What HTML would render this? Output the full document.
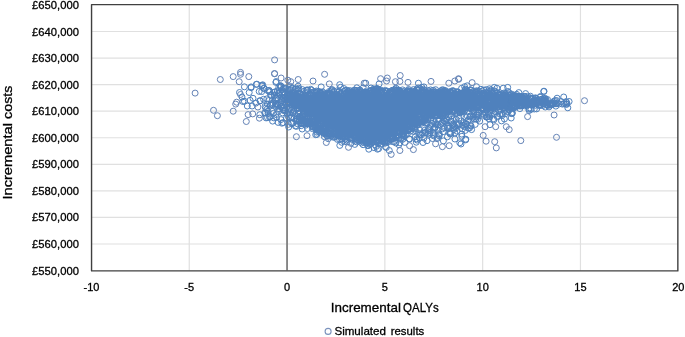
<!DOCTYPE html>
<html><head><meta charset="utf-8"><style>
html,body{margin:0;padding:0;background:#fff}
body{width:685px;height:337px;overflow:hidden}
svg{display:block;filter:blur(.3px)}
text{font-family:"Liberation Sans",sans-serif;fill:#000;stroke:#000;stroke-width:.3px}
.g line{stroke:#e0e0e0;stroke-width:1.2}
.p circle{fill:none;stroke:#4F81BD;stroke-width:1}
.i circle{stroke:#6483b6}
</style></head><body>
<svg width="685" height="337" viewBox="0 0 685 337">
<rect width="685" height="337" fill="#fff"/>
<g class="g"><line x1="91.6" x2="678.2" y1="243.98" y2="243.98"/><line x1="91.6" x2="678.2" y1="217.42" y2="217.42"/><line x1="91.6" x2="678.2" y1="190.86" y2="190.86"/><line x1="91.6" x2="678.2" y1="164.30" y2="164.30"/><line x1="91.6" x2="678.2" y1="137.74" y2="137.74"/><line x1="91.6" x2="678.2" y1="111.18" y2="111.18"/><line x1="91.6" x2="678.2" y1="84.62" y2="84.62"/><line x1="91.6" x2="678.2" y1="58.06" y2="58.06"/><line x1="91.6" x2="678.2" y1="31.50" y2="31.50"/><line y1="4.9" y2="270.5" x1="189.25" x2="189.25"/><line y1="4.9" y2="270.5" x1="384.85" x2="384.85"/><line y1="4.9" y2="270.5" x1="482.65" x2="482.65"/><line y1="4.9" y2="270.5" x1="580.45" x2="580.45"/></g>
<line x1="287.05" x2="287.05" y1="4.9" y2="270.5" stroke="#7f7f7f" stroke-width="1.8"/>
<polygon points="290.0,92.0 300.0,93.5 315.0,95.5 330.0,95.5 345.0,95.5 360.0,95.0 380.0,94.5 420.0,94.5 455.0,94.0 470.0,95.0 485.0,95.5 500.0,96.5 508.0,96.0 499.0,97.0 489.0,100.2 479.0,101.0 467.0,101.7 457.0,102.9 447.0,104.2 438.0,106.0 428.0,109.2 418.0,115.3 409.0,123.0 400.0,128.2 390.0,131.6 377.0,137.0 367.0,137.5 357.0,136.0 348.0,134.0 338.0,131.0 328.0,126.0 319.0,121.0 309.0,115.5 299.0,110.0 288.0,105.0" fill="#4F81BD"/>
<g class="p"><circle cx="256.3" cy="84.4" r="3"/><circle cx="262.1" cy="85.3" r="3"/><circle cx="251.1" cy="86.9" r="3"/><circle cx="276.2" cy="81.5" r="3"/><circle cx="267.5" cy="117.6" r="3"/><circle cx="239.5" cy="92.5" r="3"/><circle cx="244.4" cy="101.2" r="3"/><circle cx="247.3" cy="106.0" r="3"/><circle cx="249.2" cy="92.5" r="3"/><circle cx="251.1" cy="87.7" r="3"/><circle cx="256.9" cy="84.2" r="3"/><circle cx="262.7" cy="84.8" r="3"/><circle cx="250.1" cy="100.3" r="3"/><circle cx="253.0" cy="98.3" r="3"/><circle cx="255.9" cy="103.1" r="3"/><circle cx="252.1" cy="106.0" r="3"/><circle cx="263.6" cy="99.3" r="3"/><circle cx="261.7" cy="91.6" r="3"/><circle cx="259.8" cy="114.7" r="3"/><circle cx="265.6" cy="112.8" r="3"/><circle cx="278.1" cy="122.4" r="3"/><circle cx="242.9" cy="101.5" r="3"/><circle cx="242.0" cy="97.0" r="3"/><circle cx="339.8" cy="145.4" r="3"/><circle cx="368.8" cy="149.2" r="3"/><circle cx="377.5" cy="149.2" r="3"/><circle cx="281.9" cy="123.2" r="3"/><circle cx="288.7" cy="127.0" r="3"/><circle cx="295.4" cy="126.0" r="3"/><circle cx="302.2" cy="129.0" r="3"/><circle cx="315.7" cy="134.7" r="3"/><circle cx="378.7" cy="148.6" r="3"/><circle cx="389.3" cy="150.5" r="3"/><circle cx="454.9" cy="139.0" r="3"/><circle cx="459.8" cy="142.8" r="3"/><circle cx="465.6" cy="139.9" r="3"/><circle cx="461.7" cy="134.1" r="3"/><circle cx="450.1" cy="133.2" r="3"/><circle cx="443.4" cy="140.9" r="3"/><circle cx="373.9" cy="147.6" r="3"/><circle cx="385.4" cy="146.7" r="3"/><circle cx="386.3" cy="147.5" r="3"/><circle cx="489.9" cy="124.7" r="3"/><circle cx="493.8" cy="119.9" r="3"/><circle cx="501.5" cy="120.9" r="3"/><circle cx="504.4" cy="119.0" r="3"/><circle cx="511.2" cy="118.0" r="3"/><circle cx="471.6" cy="129.6" r="3"/><circle cx="465.8" cy="139.2" r="3"/><circle cx="461.9" cy="136.3" r="3"/><circle cx="461.0" cy="144.0" r="3"/><circle cx="487.0" cy="117.0" r="3"/><circle cx="543.7" cy="91.5" r="3"/><circle cx="566.7" cy="102.6" r="3"/><circle cx="567.8" cy="107.8" r="3"/><circle cx="557.1" cy="98.2" r="3"/><circle cx="275.9" cy="82.4" r="3"/><circle cx="339.7" cy="84.7" r="3"/><circle cx="321.2" cy="86.9" r="3"/><circle cx="418.4" cy="83.2" r="3"/><circle cx="379.1" cy="83.9" r="3"/><circle cx="365.7" cy="83.2" r="3"/><circle cx="494.3" cy="87.4" r="3"/><circle cx="503.2" cy="88.2" r="3"/><circle cx="507.7" cy="87.4" r="3"/><circle cx="518.8" cy="92.6" r="3"/><circle cx="544.0" cy="91.2" r="3"/><circle cx="464.6" cy="86.7" r="3"/><circle cx="476.5" cy="86.7" r="3"/><circle cx="244.4" cy="86.8" r="3"/><circle cx="259.2" cy="91.4" r="3"/><circle cx="259.9" cy="100.7" r="3"/><circle cx="260.2" cy="100.9" r="3"/><circle cx="261.9" cy="86.1" r="3"/><circle cx="263.7" cy="88.6" r="3"/><circle cx="264.1" cy="88.1" r="3"/><circle cx="264.7" cy="112.9" r="3"/><circle cx="265.1" cy="106.3" r="3"/><circle cx="265.6" cy="108.1" r="3"/><circle cx="266.1" cy="117.9" r="3"/><circle cx="266.8" cy="109.5" r="3"/><circle cx="266.8" cy="98.9" r="3"/><circle cx="267.4" cy="104.1" r="3"/><circle cx="267.8" cy="90.6" r="3"/><circle cx="268.0" cy="111.4" r="3"/><circle cx="268.1" cy="113.5" r="3"/><circle cx="268.6" cy="100.6" r="3"/><circle cx="269.5" cy="117.3" r="3"/><circle cx="269.1" cy="90.3" r="3"/><circle cx="269.5" cy="91.8" r="3"/><circle cx="269.8" cy="91.5" r="3"/><circle cx="270.3" cy="105.0" r="3"/><circle cx="270.1" cy="116.7" r="3"/><circle cx="270.6" cy="95.0" r="3"/><circle cx="271.4" cy="103.7" r="3"/><circle cx="271.5" cy="95.4" r="3"/><circle cx="272.2" cy="111.4" r="3"/><circle cx="272.2" cy="104.8" r="3"/><circle cx="272.6" cy="121.1" r="3"/><circle cx="272.7" cy="103.1" r="3"/><circle cx="273.4" cy="113.4" r="3"/><circle cx="273.9" cy="117.9" r="3"/><circle cx="274.2" cy="96.0" r="3"/><circle cx="274.1" cy="92.4" r="3"/><circle cx="274.9" cy="91.9" r="3"/><circle cx="274.8" cy="95.2" r="3"/><circle cx="275.3" cy="100.1" r="3"/><circle cx="275.4" cy="103.7" r="3"/><circle cx="275.6" cy="106.4" r="3"/><circle cx="276.0" cy="114.5" r="3"/><circle cx="276.2" cy="104.3" r="3"/><circle cx="276.3" cy="98.1" r="3"/><circle cx="276.6" cy="117.6" r="3"/><circle cx="276.7" cy="98.5" r="3"/><circle cx="277.3" cy="90.9" r="3"/><circle cx="277.4" cy="106.3" r="3"/><circle cx="277.7" cy="104.7" r="3"/><circle cx="277.8" cy="97.8" r="3"/><circle cx="278.3" cy="105.3" r="3"/><circle cx="278.3" cy="93.4" r="3"/><circle cx="278.5" cy="111.5" r="3"/><circle cx="278.8" cy="87.3" r="3"/><circle cx="279.1" cy="108.7" r="3"/><circle cx="279.5" cy="92.6" r="3"/><circle cx="279.6" cy="103.8" r="3"/><circle cx="279.6" cy="94.8" r="3"/><circle cx="280.3" cy="85.6" r="3"/><circle cx="280.3" cy="87.1" r="3"/><circle cx="280.6" cy="106.7" r="3"/><circle cx="280.9" cy="86.1" r="3"/><circle cx="280.9" cy="119.6" r="3"/><circle cx="281.4" cy="99.4" r="3"/><circle cx="281.3" cy="86.5" r="3"/><circle cx="281.9" cy="100.7" r="3"/><circle cx="281.9" cy="89.9" r="3"/><circle cx="282.1" cy="106.4" r="3"/><circle cx="282.1" cy="93.3" r="3"/><circle cx="282.9" cy="110.0" r="3"/><circle cx="282.7" cy="92.2" r="3"/><circle cx="282.5" cy="112.9" r="3"/><circle cx="283.1" cy="122.6" r="3"/><circle cx="283.4" cy="98.4" r="3"/><circle cx="283.7" cy="108.0" r="3"/><circle cx="283.7" cy="101.3" r="3"/><circle cx="283.6" cy="88.1" r="3"/><circle cx="284.4" cy="109.9" r="3"/><circle cx="284.1" cy="94.4" r="3"/><circle cx="284.2" cy="92.0" r="3"/><circle cx="284.6" cy="99.8" r="3"/><circle cx="284.7" cy="111.0" r="3"/><circle cx="284.8" cy="98.3" r="3"/><circle cx="285.2" cy="88.9" r="3"/><circle cx="285.2" cy="88.1" r="3"/><circle cx="285.4" cy="99.5" r="3"/><circle cx="285.7" cy="96.9" r="3"/><circle cx="285.5" cy="110.5" r="3"/><circle cx="286.4" cy="103.9" r="3"/><circle cx="286.4" cy="99.3" r="3"/><circle cx="286.8" cy="107.3" r="3"/><circle cx="286.5" cy="118.1" r="3"/><circle cx="287.3" cy="113.6" r="3"/><circle cx="287.0" cy="99.2" r="3"/><circle cx="287.3" cy="99.5" r="3"/><circle cx="287.5" cy="94.4" r="3"/><circle cx="287.9" cy="93.5" r="3"/><circle cx="287.7" cy="97.1" r="3"/><circle cx="288.0" cy="102.6" r="3"/><circle cx="288.4" cy="116.7" r="3"/><circle cx="288.0" cy="89.6" r="3"/><circle cx="288.6" cy="103.5" r="3"/><circle cx="288.6" cy="99.1" r="3"/><circle cx="288.5" cy="124.3" r="3"/><circle cx="289.1" cy="98.9" r="3"/><circle cx="289.3" cy="93.8" r="3"/><circle cx="289.1" cy="109.5" r="3"/><circle cx="289.6" cy="104.4" r="3"/><circle cx="289.5" cy="90.0" r="3"/><circle cx="289.6" cy="95.9" r="3"/><circle cx="290.4" cy="89.5" r="3"/><circle cx="290.5" cy="112.8" r="3"/><circle cx="290.2" cy="95.7" r="3"/><circle cx="290.7" cy="97.4" r="3"/><circle cx="290.6" cy="86.5" r="3"/><circle cx="290.6" cy="117.9" r="3"/><circle cx="291.4" cy="123.3" r="3"/><circle cx="291.3" cy="110.1" r="3"/><circle cx="291.4" cy="88.5" r="3"/><circle cx="291.5" cy="96.0" r="3"/><circle cx="291.6" cy="117.0" r="3"/><circle cx="291.8" cy="95.4" r="3"/><circle cx="292.1" cy="93.5" r="3"/><circle cx="292.1" cy="100.7" r="3"/><circle cx="292.1" cy="99.7" r="3"/><circle cx="292.5" cy="113.0" r="3"/><circle cx="292.9" cy="123.2" r="3"/><circle cx="292.7" cy="101.5" r="3"/><circle cx="292.6" cy="88.1" r="3"/><circle cx="293.4" cy="104.0" r="3"/><circle cx="293.2" cy="112.3" r="3"/><circle cx="293.0" cy="109.4" r="3"/><circle cx="293.8" cy="100.7" r="3"/><circle cx="293.9" cy="110.9" r="3"/><circle cx="293.6" cy="95.6" r="3"/><circle cx="294.0" cy="105.4" r="3"/><circle cx="294.3" cy="100.4" r="3"/><circle cx="294.5" cy="95.4" r="3"/><circle cx="294.1" cy="118.7" r="3"/><circle cx="294.5" cy="92.7" r="3"/><circle cx="294.6" cy="99.0" r="3"/><circle cx="295.0" cy="89.5" r="3"/><circle cx="294.6" cy="101.0" r="3"/><circle cx="295.0" cy="97.3" r="3"/><circle cx="295.1" cy="99.9" r="3"/><circle cx="295.0" cy="95.5" r="3"/><circle cx="295.1" cy="105.9" r="3"/><circle cx="296.0" cy="95.1" r="3"/><circle cx="295.6" cy="95.7" r="3"/><circle cx="296.0" cy="119.5" r="3"/><circle cx="296.5" cy="121.1" r="3"/><circle cx="296.5" cy="95.3" r="3"/><circle cx="296.0" cy="88.9" r="3"/><circle cx="297.0" cy="107.6" r="3"/><circle cx="296.9" cy="119.2" r="3"/><circle cx="296.7" cy="99.3" r="3"/><circle cx="296.5" cy="126.3" r="3"/><circle cx="297.5" cy="93.5" r="3"/><circle cx="297.2" cy="118.7" r="3"/><circle cx="297.5" cy="99.3" r="3"/><circle cx="297.4" cy="123.7" r="3"/><circle cx="297.5" cy="108.8" r="3"/><circle cx="297.9" cy="89.3" r="3"/><circle cx="297.6" cy="116.5" r="3"/><circle cx="297.9" cy="96.8" r="3"/><circle cx="298.3" cy="90.5" r="3"/><circle cx="298.1" cy="86.2" r="3"/><circle cx="298.2" cy="113.4" r="3"/><circle cx="298.5" cy="102.5" r="3"/><circle cx="298.9" cy="110.5" r="3"/><circle cx="298.9" cy="117.1" r="3"/><circle cx="298.9" cy="119.7" r="3"/><circle cx="298.7" cy="88.3" r="3"/><circle cx="299.0" cy="97.2" r="3"/><circle cx="299.2" cy="108.0" r="3"/><circle cx="299.3" cy="105.8" r="3"/><circle cx="299.9" cy="93.9" r="3"/><circle cx="299.9" cy="100.0" r="3"/><circle cx="299.6" cy="116.8" r="3"/><circle cx="300.2" cy="99.0" r="3"/><circle cx="300.4" cy="96.7" r="3"/><circle cx="300.2" cy="93.5" r="3"/><circle cx="300.0" cy="113.4" r="3"/><circle cx="301.0" cy="123.2" r="3"/><circle cx="300.6" cy="102.2" r="3"/><circle cx="300.8" cy="93.7" r="3"/><circle cx="300.7" cy="117.1" r="3"/><circle cx="301.1" cy="122.7" r="3"/><circle cx="301.3" cy="120.9" r="3"/><circle cx="301.3" cy="119.0" r="3"/><circle cx="301.2" cy="125.7" r="3"/><circle cx="301.7" cy="120.8" r="3"/><circle cx="302.0" cy="123.8" r="3"/><circle cx="301.7" cy="100.2" r="3"/><circle cx="301.6" cy="100.4" r="3"/><circle cx="302.4" cy="89.6" r="3"/><circle cx="302.1" cy="103.0" r="3"/><circle cx="302.5" cy="107.5" r="3"/><circle cx="302.3" cy="100.7" r="3"/><circle cx="302.6" cy="115.0" r="3"/><circle cx="302.6" cy="116.1" r="3"/><circle cx="302.7" cy="116.3" r="3"/><circle cx="303.0" cy="101.3" r="3"/><circle cx="303.4" cy="120.6" r="3"/><circle cx="303.4" cy="113.2" r="3"/><circle cx="303.2" cy="122.6" r="3"/><circle cx="303.4" cy="121.2" r="3"/><circle cx="303.5" cy="111.2" r="3"/><circle cx="303.8" cy="123.2" r="3"/><circle cx="303.7" cy="106.6" r="3"/><circle cx="303.5" cy="102.9" r="3"/><circle cx="304.4" cy="121.8" r="3"/><circle cx="304.2" cy="96.2" r="3"/><circle cx="304.2" cy="119.9" r="3"/><circle cx="304.3" cy="91.2" r="3"/><circle cx="304.5" cy="105.1" r="3"/><circle cx="304.9" cy="120.9" r="3"/><circle cx="304.6" cy="113.1" r="3"/><circle cx="305.0" cy="116.9" r="3"/><circle cx="305.2" cy="93.4" r="3"/><circle cx="305.4" cy="119.2" r="3"/><circle cx="305.3" cy="95.5" r="3"/><circle cx="305.2" cy="118.8" r="3"/><circle cx="306.0" cy="125.1" r="3"/><circle cx="305.9" cy="96.3" r="3"/><circle cx="305.7" cy="108.8" r="3"/><circle cx="305.9" cy="107.3" r="3"/><circle cx="305.7" cy="108.6" r="3"/><circle cx="306.2" cy="107.4" r="3"/><circle cx="306.4" cy="96.6" r="3"/><circle cx="306.3" cy="98.7" r="3"/><circle cx="306.2" cy="109.8" r="3"/><circle cx="306.8" cy="123.4" r="3"/><circle cx="306.6" cy="123.0" r="3"/><circle cx="306.6" cy="90.0" r="3"/><circle cx="306.8" cy="119.2" r="3"/><circle cx="306.6" cy="123.5" r="3"/><circle cx="307.0" cy="123.7" r="3"/><circle cx="307.2" cy="113.4" r="3"/><circle cx="307.2" cy="90.4" r="3"/><circle cx="307.4" cy="117.7" r="3"/><circle cx="307.8" cy="90.0" r="3"/><circle cx="307.5" cy="128.5" r="3"/><circle cx="307.6" cy="95.9" r="3"/><circle cx="307.9" cy="109.8" r="3"/><circle cx="307.7" cy="123.0" r="3"/><circle cx="308.0" cy="112.0" r="3"/><circle cx="308.4" cy="105.0" r="3"/><circle cx="308.0" cy="123.0" r="3"/><circle cx="308.4" cy="111.4" r="3"/><circle cx="308.3" cy="122.4" r="3"/><circle cx="308.8" cy="99.6" r="3"/><circle cx="308.6" cy="120.9" r="3"/><circle cx="308.9" cy="118.7" r="3"/><circle cx="308.6" cy="101.4" r="3"/><circle cx="309.5" cy="111.0" r="3"/><circle cx="309.4" cy="111.9" r="3"/><circle cx="309.2" cy="108.3" r="3"/><circle cx="309.5" cy="94.4" r="3"/><circle cx="310.0" cy="121.4" r="3"/><circle cx="309.8" cy="122.3" r="3"/><circle cx="309.5" cy="113.3" r="3"/><circle cx="309.9" cy="121.1" r="3"/><circle cx="309.9" cy="94.1" r="3"/><circle cx="310.0" cy="121.8" r="3"/><circle cx="310.4" cy="110.5" r="3"/><circle cx="310.0" cy="123.5" r="3"/><circle cx="310.2" cy="98.2" r="3"/><circle cx="310.7" cy="123.0" r="3"/><circle cx="310.9" cy="107.0" r="3"/><circle cx="310.7" cy="89.3" r="3"/><circle cx="310.9" cy="102.4" r="3"/><circle cx="310.9" cy="122.8" r="3"/><circle cx="311.4" cy="123.4" r="3"/><circle cx="311.4" cy="90.1" r="3"/><circle cx="311.4" cy="102.6" r="3"/><circle cx="311.1" cy="100.7" r="3"/><circle cx="311.3" cy="95.7" r="3"/><circle cx="311.8" cy="115.6" r="3"/><circle cx="311.9" cy="104.1" r="3"/><circle cx="311.6" cy="93.3" r="3"/><circle cx="311.7" cy="107.2" r="3"/><circle cx="311.7" cy="122.2" r="3"/><circle cx="312.2" cy="111.7" r="3"/><circle cx="312.4" cy="126.4" r="3"/><circle cx="312.3" cy="115.5" r="3"/><circle cx="312.1" cy="118.8" r="3"/><circle cx="312.4" cy="128.6" r="3"/><circle cx="312.8" cy="122.5" r="3"/><circle cx="312.6" cy="127.1" r="3"/><circle cx="313.0" cy="95.7" r="3"/><circle cx="312.9" cy="121.9" r="3"/><circle cx="313.1" cy="124.3" r="3"/><circle cx="313.2" cy="92.0" r="3"/><circle cx="313.3" cy="107.7" r="3"/><circle cx="313.4" cy="126.9" r="3"/><circle cx="313.7" cy="115.4" r="3"/><circle cx="313.9" cy="119.4" r="3"/><circle cx="313.8" cy="113.3" r="3"/><circle cx="313.8" cy="126.2" r="3"/><circle cx="314.3" cy="114.5" r="3"/><circle cx="314.3" cy="106.7" r="3"/><circle cx="314.1" cy="121.1" r="3"/><circle cx="314.2" cy="104.7" r="3"/><circle cx="314.4" cy="91.7" r="3"/><circle cx="314.8" cy="124.4" r="3"/><circle cx="314.8" cy="108.6" r="3"/><circle cx="315.0" cy="105.5" r="3"/><circle cx="314.9" cy="104.9" r="3"/><circle cx="315.2" cy="127.7" r="3"/><circle cx="315.3" cy="106.0" r="3"/><circle cx="315.1" cy="125.2" r="3"/><circle cx="315.1" cy="109.2" r="3"/><circle cx="315.1" cy="99.5" r="3"/><circle cx="315.8" cy="107.6" r="3"/><circle cx="315.8" cy="104.0" r="3"/><circle cx="315.6" cy="107.5" r="3"/><circle cx="315.9" cy="126.5" r="3"/><circle cx="315.6" cy="128.2" r="3"/><circle cx="316.1" cy="92.7" r="3"/><circle cx="316.3" cy="106.4" r="3"/><circle cx="316.5" cy="128.5" r="3"/><circle cx="316.4" cy="91.0" r="3"/><circle cx="316.0" cy="112.8" r="3"/><circle cx="316.6" cy="100.9" r="3"/><circle cx="316.9" cy="134.4" r="3"/><circle cx="316.6" cy="132.1" r="3"/><circle cx="316.8" cy="117.7" r="3"/><circle cx="316.6" cy="119.5" r="3"/><circle cx="316.7" cy="116.5" r="3"/><circle cx="317.1" cy="130.0" r="3"/><circle cx="317.2" cy="94.9" r="3"/><circle cx="317.3" cy="108.9" r="3"/><circle cx="317.3" cy="91.8" r="3"/><circle cx="317.2" cy="105.0" r="3"/><circle cx="317.5" cy="113.5" r="3"/><circle cx="317.7" cy="123.0" r="3"/><circle cx="317.9" cy="108.6" r="3"/><circle cx="317.7" cy="113.1" r="3"/><circle cx="317.7" cy="130.0" r="3"/><circle cx="318.3" cy="130.3" r="3"/><circle cx="318.4" cy="127.6" r="3"/><circle cx="318.3" cy="101.8" r="3"/><circle cx="318.2" cy="118.7" r="3"/><circle cx="318.4" cy="131.6" r="3"/><circle cx="318.5" cy="110.8" r="3"/><circle cx="318.6" cy="91.5" r="3"/><circle cx="318.9" cy="114.5" r="3"/><circle cx="318.8" cy="113.2" r="3"/><circle cx="318.6" cy="115.3" r="3"/><circle cx="318.6" cy="118.0" r="3"/><circle cx="319.3" cy="123.2" r="3"/><circle cx="319.3" cy="119.0" r="3"/><circle cx="319.2" cy="129.9" r="3"/><circle cx="319.3" cy="94.8" r="3"/><circle cx="319.4" cy="128.1" r="3"/><circle cx="319.0" cy="107.7" r="3"/><circle cx="319.7" cy="125.6" r="3"/><circle cx="319.6" cy="128.4" r="3"/><circle cx="319.8" cy="91.9" r="3"/><circle cx="319.9" cy="95.9" r="3"/><circle cx="319.9" cy="92.7" r="3"/><circle cx="320.4" cy="116.9" r="3"/><circle cx="320.3" cy="130.2" r="3"/><circle cx="320.1" cy="124.3" r="3"/><circle cx="320.0" cy="93.4" r="3"/><circle cx="320.2" cy="95.7" r="3"/><circle cx="320.0" cy="130.3" r="3"/><circle cx="320.6" cy="115.9" r="3"/><circle cx="320.8" cy="131.2" r="3"/><circle cx="320.9" cy="106.0" r="3"/><circle cx="320.6" cy="112.1" r="3"/><circle cx="320.9" cy="116.7" r="3"/><circle cx="320.9" cy="126.0" r="3"/><circle cx="321.2" cy="123.2" r="3"/><circle cx="321.4" cy="123.5" r="3"/><circle cx="321.3" cy="92.8" r="3"/><circle cx="321.4" cy="94.4" r="3"/><circle cx="321.1" cy="112.4" r="3"/><circle cx="321.7" cy="124.3" r="3"/><circle cx="321.6" cy="120.3" r="3"/><circle cx="321.8" cy="101.0" r="3"/><circle cx="321.6" cy="100.1" r="3"/><circle cx="321.5" cy="108.7" r="3"/><circle cx="322.3" cy="132.4" r="3"/><circle cx="322.2" cy="111.0" r="3"/><circle cx="322.4" cy="128.5" r="3"/><circle cx="322.3" cy="106.9" r="3"/><circle cx="322.5" cy="91.8" r="3"/><circle cx="322.6" cy="120.3" r="3"/><circle cx="322.5" cy="128.6" r="3"/><circle cx="322.8" cy="109.8" r="3"/><circle cx="323.0" cy="107.8" r="3"/><circle cx="322.6" cy="126.4" r="3"/><circle cx="322.6" cy="127.8" r="3"/><circle cx="323.2" cy="123.3" r="3"/><circle cx="323.3" cy="95.2" r="3"/><circle cx="323.3" cy="131.4" r="3"/><circle cx="323.2" cy="116.3" r="3"/><circle cx="323.5" cy="128.8" r="3"/><circle cx="323.2" cy="131.4" r="3"/><circle cx="323.9" cy="94.6" r="3"/><circle cx="323.5" cy="127.6" r="3"/><circle cx="323.8" cy="125.9" r="3"/><circle cx="323.6" cy="119.6" r="3"/><circle cx="323.6" cy="128.9" r="3"/><circle cx="324.0" cy="132.6" r="3"/><circle cx="324.0" cy="133.7" r="3"/><circle cx="324.4" cy="136.7" r="3"/><circle cx="324.5" cy="96.4" r="3"/><circle cx="324.2" cy="109.0" r="3"/><circle cx="324.1" cy="115.2" r="3"/><circle cx="324.6" cy="112.6" r="3"/><circle cx="324.7" cy="132.2" r="3"/><circle cx="324.6" cy="130.7" r="3"/><circle cx="325.0" cy="132.0" r="3"/><circle cx="324.9" cy="95.0" r="3"/><circle cx="324.6" cy="132.2" r="3"/><circle cx="325.5" cy="128.6" r="3"/><circle cx="325.4" cy="129.2" r="3"/><circle cx="325.5" cy="103.5" r="3"/><circle cx="325.1" cy="105.2" r="3"/><circle cx="325.1" cy="111.8" r="3"/><circle cx="325.3" cy="100.8" r="3"/><circle cx="325.6" cy="118.6" r="3"/><circle cx="325.6" cy="133.0" r="3"/><circle cx="325.9" cy="118.4" r="3"/><circle cx="325.5" cy="132.2" r="3"/><circle cx="325.5" cy="118.9" r="3"/><circle cx="325.9" cy="123.2" r="3"/><circle cx="326.4" cy="110.2" r="3"/><circle cx="326.1" cy="131.2" r="3"/><circle cx="326.3" cy="93.2" r="3"/><circle cx="326.4" cy="97.4" r="3"/><circle cx="326.4" cy="104.6" r="3"/><circle cx="326.4" cy="95.2" r="3"/><circle cx="326.8" cy="112.3" r="3"/><circle cx="326.6" cy="101.1" r="3"/><circle cx="326.9" cy="133.0" r="3"/><circle cx="326.5" cy="130.3" r="3"/><circle cx="326.9" cy="112.0" r="3"/><circle cx="327.1" cy="94.7" r="3"/><circle cx="327.1" cy="103.2" r="3"/><circle cx="327.3" cy="132.3" r="3"/><circle cx="327.1" cy="136.0" r="3"/><circle cx="327.2" cy="107.2" r="3"/><circle cx="327.5" cy="107.5" r="3"/><circle cx="327.7" cy="132.9" r="3"/><circle cx="328.0" cy="122.6" r="3"/><circle cx="327.8" cy="95.0" r="3"/><circle cx="327.7" cy="102.2" r="3"/><circle cx="327.5" cy="112.5" r="3"/><circle cx="327.6" cy="93.8" r="3"/><circle cx="328.4" cy="116.4" r="3"/><circle cx="328.3" cy="94.3" r="3"/><circle cx="328.3" cy="103.1" r="3"/><circle cx="328.3" cy="102.3" r="3"/><circle cx="328.2" cy="103.6" r="3"/><circle cx="328.3" cy="138.7" r="3"/><circle cx="328.6" cy="98.5" r="3"/><circle cx="328.7" cy="136.0" r="3"/><circle cx="328.9" cy="134.6" r="3"/><circle cx="328.6" cy="117.2" r="3"/><circle cx="328.8" cy="113.4" r="3"/><circle cx="328.6" cy="102.0" r="3"/><circle cx="329.2" cy="93.4" r="3"/><circle cx="329.3" cy="133.1" r="3"/><circle cx="329.4" cy="133.8" r="3"/><circle cx="329.4" cy="92.9" r="3"/><circle cx="329.4" cy="91.4" r="3"/><circle cx="329.5" cy="133.2" r="3"/><circle cx="329.8" cy="106.2" r="3"/><circle cx="329.8" cy="123.8" r="3"/><circle cx="329.7" cy="121.5" r="3"/><circle cx="329.6" cy="127.4" r="3"/><circle cx="329.7" cy="92.7" r="3"/><circle cx="329.9" cy="108.7" r="3"/><circle cx="330.2" cy="110.1" r="3"/><circle cx="330.3" cy="107.7" r="3"/><circle cx="330.4" cy="122.7" r="3"/><circle cx="330.2" cy="100.0" r="3"/><circle cx="330.0" cy="115.0" r="3"/><circle cx="330.4" cy="124.8" r="3"/><circle cx="330.5" cy="127.5" r="3"/><circle cx="331.0" cy="111.9" r="3"/><circle cx="330.8" cy="130.9" r="3"/><circle cx="330.7" cy="107.8" r="3"/><circle cx="330.8" cy="129.0" r="3"/><circle cx="330.7" cy="136.2" r="3"/><circle cx="331.5" cy="126.5" r="3"/><circle cx="331.5" cy="116.8" r="3"/><circle cx="331.1" cy="124.1" r="3"/><circle cx="331.3" cy="124.5" r="3"/><circle cx="331.4" cy="119.3" r="3"/><circle cx="331.1" cy="109.0" r="3"/><circle cx="331.6" cy="100.2" r="3"/><circle cx="332.0" cy="106.5" r="3"/><circle cx="331.7" cy="90.0" r="3"/><circle cx="331.7" cy="91.1" r="3"/><circle cx="331.6" cy="118.6" r="3"/><circle cx="331.8" cy="103.2" r="3"/><circle cx="331.7" cy="115.0" r="3"/><circle cx="332.1" cy="97.1" r="3"/><circle cx="332.3" cy="124.7" r="3"/><circle cx="332.2" cy="89.6" r="3"/><circle cx="332.1" cy="99.5" r="3"/><circle cx="332.2" cy="115.4" r="3"/><circle cx="332.4" cy="95.1" r="3"/><circle cx="332.3" cy="109.9" r="3"/><circle cx="332.7" cy="126.1" r="3"/><circle cx="332.8" cy="104.7" r="3"/><circle cx="332.6" cy="129.7" r="3"/><circle cx="332.7" cy="101.6" r="3"/><circle cx="332.6" cy="123.7" r="3"/><circle cx="333.0" cy="100.2" r="3"/><circle cx="332.8" cy="97.4" r="3"/><circle cx="333.1" cy="92.7" r="3"/><circle cx="333.1" cy="102.5" r="3"/><circle cx="333.2" cy="137.2" r="3"/><circle cx="333.1" cy="96.6" r="3"/><circle cx="333.2" cy="133.1" r="3"/><circle cx="333.2" cy="99.2" r="3"/><circle cx="333.1" cy="130.3" r="3"/><circle cx="333.9" cy="133.9" r="3"/><circle cx="333.7" cy="116.0" r="3"/><circle cx="333.9" cy="101.3" r="3"/><circle cx="333.6" cy="114.2" r="3"/><circle cx="333.8" cy="118.7" r="3"/><circle cx="333.6" cy="96.4" r="3"/><circle cx="334.3" cy="97.3" r="3"/><circle cx="334.0" cy="104.7" r="3"/><circle cx="334.1" cy="132.8" r="3"/><circle cx="334.5" cy="108.8" r="3"/><circle cx="334.1" cy="126.8" r="3"/><circle cx="334.2" cy="91.7" r="3"/><circle cx="334.9" cy="102.8" r="3"/><circle cx="334.6" cy="100.2" r="3"/><circle cx="334.5" cy="121.1" r="3"/><circle cx="334.6" cy="137.2" r="3"/><circle cx="334.7" cy="94.5" r="3"/><circle cx="334.9" cy="134.9" r="3"/><circle cx="334.7" cy="120.0" r="3"/><circle cx="335.0" cy="104.3" r="3"/><circle cx="335.1" cy="94.9" r="3"/><circle cx="335.5" cy="101.3" r="3"/><circle cx="335.3" cy="136.5" r="3"/><circle cx="335.1" cy="125.8" r="3"/><circle cx="335.5" cy="109.8" r="3"/><circle cx="335.3" cy="125.9" r="3"/><circle cx="335.8" cy="110.1" r="3"/><circle cx="335.9" cy="132.9" r="3"/><circle cx="336.0" cy="114.8" r="3"/><circle cx="335.5" cy="102.9" r="3"/><circle cx="335.7" cy="101.0" r="3"/><circle cx="335.6" cy="119.7" r="3"/><circle cx="336.0" cy="110.7" r="3"/><circle cx="336.3" cy="98.7" r="3"/><circle cx="336.4" cy="114.9" r="3"/><circle cx="336.2" cy="116.9" r="3"/><circle cx="336.1" cy="97.6" r="3"/><circle cx="336.0" cy="134.0" r="3"/><circle cx="336.1" cy="134.1" r="3"/><circle cx="336.1" cy="107.5" r="3"/><circle cx="336.5" cy="123.2" r="3"/><circle cx="336.6" cy="115.7" r="3"/><circle cx="336.8" cy="100.6" r="3"/><circle cx="336.8" cy="118.9" r="3"/><circle cx="336.6" cy="103.1" r="3"/><circle cx="336.9" cy="90.9" r="3"/><circle cx="336.8" cy="100.5" r="3"/><circle cx="337.4" cy="134.7" r="3"/><circle cx="337.4" cy="139.4" r="3"/><circle cx="337.2" cy="115.3" r="3"/><circle cx="337.3" cy="94.7" r="3"/><circle cx="337.5" cy="121.5" r="3"/><circle cx="337.1" cy="113.2" r="3"/><circle cx="337.7" cy="134.3" r="3"/><circle cx="337.5" cy="135.4" r="3"/><circle cx="337.9" cy="133.6" r="3"/><circle cx="337.6" cy="110.3" r="3"/><circle cx="337.7" cy="110.1" r="3"/><circle cx="338.0" cy="126.5" r="3"/><circle cx="337.8" cy="111.0" r="3"/><circle cx="338.2" cy="134.0" r="3"/><circle cx="338.4" cy="130.0" r="3"/><circle cx="338.4" cy="118.3" r="3"/><circle cx="338.1" cy="117.8" r="3"/><circle cx="338.3" cy="112.6" r="3"/><circle cx="338.0" cy="129.1" r="3"/><circle cx="338.0" cy="111.2" r="3"/><circle cx="338.8" cy="110.0" r="3"/><circle cx="338.6" cy="97.7" r="3"/><circle cx="338.9" cy="97.6" r="3"/><circle cx="338.7" cy="136.2" r="3"/><circle cx="338.6" cy="116.4" r="3"/><circle cx="338.7" cy="96.3" r="3"/><circle cx="338.8" cy="128.3" r="3"/><circle cx="339.5" cy="134.4" r="3"/><circle cx="339.1" cy="135.4" r="3"/><circle cx="339.1" cy="124.7" r="3"/><circle cx="339.1" cy="91.3" r="3"/><circle cx="339.1" cy="91.9" r="3"/><circle cx="339.3" cy="129.4" r="3"/><circle cx="339.4" cy="130.5" r="3"/><circle cx="339.8" cy="124.3" r="3"/><circle cx="339.7" cy="135.2" r="3"/><circle cx="339.5" cy="122.6" r="3"/><circle cx="339.6" cy="139.3" r="3"/><circle cx="339.6" cy="103.4" r="3"/><circle cx="339.6" cy="116.8" r="3"/><circle cx="339.9" cy="135.7" r="3"/><circle cx="340.2" cy="121.2" r="3"/><circle cx="340.3" cy="115.1" r="3"/><circle cx="340.2" cy="93.6" r="3"/><circle cx="340.4" cy="128.9" r="3"/><circle cx="340.3" cy="126.6" r="3"/><circle cx="340.4" cy="99.5" r="3"/><circle cx="340.0" cy="118.1" r="3"/><circle cx="340.5" cy="117.3" r="3"/><circle cx="340.8" cy="112.3" r="3"/><circle cx="340.8" cy="93.2" r="3"/><circle cx="340.5" cy="87.3" r="3"/><circle cx="340.6" cy="104.2" r="3"/><circle cx="340.8" cy="116.5" r="3"/><circle cx="340.8" cy="94.4" r="3"/><circle cx="341.3" cy="119.2" r="3"/><circle cx="341.4" cy="125.9" r="3"/><circle cx="341.4" cy="105.6" r="3"/><circle cx="341.2" cy="119.3" r="3"/><circle cx="341.2" cy="95.5" r="3"/><circle cx="341.2" cy="112.9" r="3"/><circle cx="341.1" cy="107.5" r="3"/><circle cx="341.8" cy="111.5" r="3"/><circle cx="341.5" cy="136.8" r="3"/><circle cx="341.8" cy="123.2" r="3"/><circle cx="341.8" cy="131.3" r="3"/><circle cx="341.7" cy="142.3" r="3"/><circle cx="341.5" cy="129.1" r="3"/><circle cx="341.6" cy="104.5" r="3"/><circle cx="341.6" cy="138.9" r="3"/><circle cx="342.3" cy="101.4" r="3"/><circle cx="342.4" cy="101.2" r="3"/><circle cx="342.4" cy="96.3" r="3"/><circle cx="342.1" cy="98.7" r="3"/><circle cx="342.5" cy="119.7" r="3"/><circle cx="342.3" cy="124.2" r="3"/><circle cx="342.0" cy="107.1" r="3"/><circle cx="342.7" cy="107.0" r="3"/><circle cx="342.5" cy="112.4" r="3"/><circle cx="342.5" cy="134.3" r="3"/><circle cx="342.5" cy="106.8" r="3"/><circle cx="342.9" cy="135.0" r="3"/><circle cx="342.8" cy="117.6" r="3"/><circle cx="342.9" cy="106.8" r="3"/><circle cx="343.2" cy="125.6" r="3"/><circle cx="343.1" cy="112.0" r="3"/><circle cx="343.0" cy="98.5" r="3"/><circle cx="343.2" cy="125.5" r="3"/><circle cx="343.0" cy="124.8" r="3"/><circle cx="343.0" cy="136.3" r="3"/><circle cx="343.5" cy="100.6" r="3"/><circle cx="343.6" cy="135.7" r="3"/><circle cx="344.0" cy="103.2" r="3"/><circle cx="343.9" cy="107.5" r="3"/><circle cx="343.6" cy="131.1" r="3"/><circle cx="343.8" cy="88.5" r="3"/><circle cx="343.8" cy="95.5" r="3"/><circle cx="343.8" cy="132.8" r="3"/><circle cx="344.1" cy="111.3" r="3"/><circle cx="344.1" cy="120.2" r="3"/><circle cx="344.1" cy="117.1" r="3"/><circle cx="344.4" cy="104.3" r="3"/><circle cx="344.2" cy="107.0" r="3"/><circle cx="344.2" cy="137.0" r="3"/><circle cx="344.4" cy="101.9" r="3"/><circle cx="344.9" cy="100.7" r="3"/><circle cx="344.6" cy="94.0" r="3"/><circle cx="345.0" cy="90.5" r="3"/><circle cx="344.6" cy="97.1" r="3"/><circle cx="344.9" cy="139.0" r="3"/><circle cx="344.6" cy="94.4" r="3"/><circle cx="344.8" cy="94.6" r="3"/><circle cx="345.0" cy="141.3" r="3"/><circle cx="345.1" cy="130.4" r="3"/><circle cx="345.3" cy="137.3" r="3"/><circle cx="345.1" cy="114.3" r="3"/><circle cx="345.2" cy="132.1" r="3"/><circle cx="345.4" cy="130.6" r="3"/><circle cx="345.1" cy="136.4" r="3"/><circle cx="345.3" cy="91.0" r="3"/><circle cx="345.8" cy="120.9" r="3"/><circle cx="345.9" cy="135.0" r="3"/><circle cx="345.7" cy="106.6" r="3"/><circle cx="345.7" cy="109.5" r="3"/><circle cx="345.8" cy="93.2" r="3"/><circle cx="345.7" cy="119.1" r="3"/><circle cx="345.9" cy="98.0" r="3"/><circle cx="346.3" cy="92.9" r="3"/><circle cx="346.2" cy="116.5" r="3"/><circle cx="346.3" cy="92.9" r="3"/><circle cx="346.3" cy="103.0" r="3"/><circle cx="346.2" cy="123.5" r="3"/><circle cx="346.2" cy="122.0" r="3"/><circle cx="346.3" cy="102.6" r="3"/><circle cx="346.8" cy="124.0" r="3"/><circle cx="347.0" cy="99.1" r="3"/><circle cx="346.9" cy="115.7" r="3"/><circle cx="346.9" cy="141.9" r="3"/><circle cx="346.9" cy="128.6" r="3"/><circle cx="346.9" cy="90.2" r="3"/><circle cx="346.6" cy="139.9" r="3"/><circle cx="346.8" cy="127.6" r="3"/><circle cx="347.3" cy="136.1" r="3"/><circle cx="347.4" cy="127.5" r="3"/><circle cx="347.3" cy="108.8" r="3"/><circle cx="347.2" cy="107.6" r="3"/><circle cx="347.0" cy="117.6" r="3"/><circle cx="347.2" cy="104.8" r="3"/><circle cx="347.3" cy="96.9" r="3"/><circle cx="347.8" cy="127.3" r="3"/><circle cx="347.9" cy="91.1" r="3"/><circle cx="347.9" cy="121.1" r="3"/><circle cx="348.0" cy="118.1" r="3"/><circle cx="347.7" cy="123.8" r="3"/><circle cx="347.9" cy="96.0" r="3"/><circle cx="348.0" cy="114.5" r="3"/><circle cx="348.2" cy="113.1" r="3"/><circle cx="348.4" cy="113.5" r="3"/><circle cx="348.4" cy="115.2" r="3"/><circle cx="348.0" cy="110.4" r="3"/><circle cx="348.4" cy="126.4" r="3"/><circle cx="348.4" cy="96.3" r="3"/><circle cx="348.4" cy="137.5" r="3"/><circle cx="348.7" cy="124.0" r="3"/><circle cx="348.8" cy="111.2" r="3"/><circle cx="348.6" cy="131.0" r="3"/><circle cx="349.0" cy="93.1" r="3"/><circle cx="348.6" cy="106.6" r="3"/><circle cx="348.7" cy="115.2" r="3"/><circle cx="348.9" cy="130.8" r="3"/><circle cx="349.3" cy="95.2" r="3"/><circle cx="349.3" cy="114.3" r="3"/><circle cx="349.5" cy="101.6" r="3"/><circle cx="349.2" cy="91.9" r="3"/><circle cx="349.4" cy="104.9" r="3"/><circle cx="349.3" cy="128.1" r="3"/><circle cx="349.4" cy="112.4" r="3"/><circle cx="349.9" cy="95.0" r="3"/><circle cx="350.0" cy="100.8" r="3"/><circle cx="349.8" cy="114.8" r="3"/><circle cx="349.9" cy="102.1" r="3"/><circle cx="349.6" cy="102.0" r="3"/><circle cx="349.7" cy="134.7" r="3"/><circle cx="349.8" cy="132.7" r="3"/><circle cx="349.8" cy="90.6" r="3"/><circle cx="350.3" cy="103.1" r="3"/><circle cx="350.5" cy="99.6" r="3"/><circle cx="350.4" cy="99.5" r="3"/><circle cx="350.2" cy="94.3" r="3"/><circle cx="350.0" cy="116.9" r="3"/><circle cx="350.3" cy="111.8" r="3"/><circle cx="350.5" cy="98.2" r="3"/><circle cx="350.1" cy="116.1" r="3"/><circle cx="350.5" cy="134.0" r="3"/><circle cx="350.8" cy="119.3" r="3"/><circle cx="350.9" cy="137.9" r="3"/><circle cx="350.8" cy="94.3" r="3"/><circle cx="350.8" cy="134.6" r="3"/><circle cx="350.6" cy="112.7" r="3"/><circle cx="350.9" cy="143.3" r="3"/><circle cx="350.8" cy="92.0" r="3"/><circle cx="351.3" cy="94.3" r="3"/><circle cx="351.3" cy="98.7" r="3"/><circle cx="351.1" cy="122.2" r="3"/><circle cx="351.4" cy="107.5" r="3"/><circle cx="351.0" cy="99.4" r="3"/><circle cx="351.2" cy="137.7" r="3"/><circle cx="351.3" cy="138.9" r="3"/><circle cx="351.6" cy="110.7" r="3"/><circle cx="351.8" cy="131.6" r="3"/><circle cx="352.0" cy="92.5" r="3"/><circle cx="351.8" cy="118.2" r="3"/><circle cx="351.6" cy="99.6" r="3"/><circle cx="351.6" cy="115.8" r="3"/><circle cx="351.8" cy="139.2" r="3"/><circle cx="351.6" cy="95.5" r="3"/><circle cx="352.3" cy="92.1" r="3"/><circle cx="352.4" cy="108.0" r="3"/><circle cx="352.5" cy="93.2" r="3"/><circle cx="352.1" cy="96.7" r="3"/><circle cx="352.2" cy="99.5" r="3"/><circle cx="352.2" cy="102.6" r="3"/><circle cx="352.2" cy="128.1" r="3"/><circle cx="352.4" cy="133.3" r="3"/><circle cx="352.9" cy="130.6" r="3"/><circle cx="352.6" cy="108.4" r="3"/><circle cx="352.6" cy="126.1" r="3"/><circle cx="352.9" cy="133.2" r="3"/><circle cx="352.7" cy="119.2" r="3"/><circle cx="352.6" cy="131.7" r="3"/><circle cx="352.6" cy="135.1" r="3"/><circle cx="352.9" cy="104.0" r="3"/><circle cx="353.2" cy="103.4" r="3"/><circle cx="353.2" cy="124.6" r="3"/><circle cx="353.5" cy="123.4" r="3"/><circle cx="353.3" cy="96.6" r="3"/><circle cx="353.4" cy="119.4" r="3"/><circle cx="353.1" cy="92.4" r="3"/><circle cx="353.2" cy="119.9" r="3"/><circle cx="353.4" cy="108.6" r="3"/><circle cx="353.6" cy="137.8" r="3"/><circle cx="353.9" cy="122.5" r="3"/><circle cx="353.9" cy="94.6" r="3"/><circle cx="353.7" cy="135.8" r="3"/><circle cx="353.9" cy="120.2" r="3"/><circle cx="353.8" cy="135.7" r="3"/><circle cx="353.6" cy="130.1" r="3"/><circle cx="353.7" cy="90.5" r="3"/><circle cx="354.3" cy="97.3" r="3"/><circle cx="354.5" cy="109.7" r="3"/><circle cx="354.3" cy="96.1" r="3"/><circle cx="354.3" cy="109.0" r="3"/><circle cx="354.3" cy="116.3" r="3"/><circle cx="354.5" cy="109.1" r="3"/><circle cx="354.3" cy="123.6" r="3"/><circle cx="354.9" cy="125.7" r="3"/><circle cx="355.0" cy="98.9" r="3"/><circle cx="354.8" cy="144.4" r="3"/><circle cx="354.8" cy="90.1" r="3"/><circle cx="354.8" cy="105.9" r="3"/><circle cx="354.9" cy="122.0" r="3"/><circle cx="354.9" cy="136.3" r="3"/><circle cx="354.8" cy="100.0" r="3"/><circle cx="355.3" cy="99.0" r="3"/><circle cx="355.4" cy="141.2" r="3"/><circle cx="355.1" cy="95.1" r="3"/><circle cx="355.1" cy="136.3" r="3"/><circle cx="355.2" cy="101.6" r="3"/><circle cx="355.2" cy="138.2" r="3"/><circle cx="355.5" cy="101.9" r="3"/><circle cx="355.4" cy="121.6" r="3"/><circle cx="355.8" cy="114.1" r="3"/><circle cx="355.7" cy="105.2" r="3"/><circle cx="355.8" cy="105.8" r="3"/><circle cx="355.9" cy="94.5" r="3"/><circle cx="355.6" cy="135.4" r="3"/><circle cx="355.8" cy="90.7" r="3"/><circle cx="355.9" cy="111.4" r="3"/><circle cx="356.0" cy="122.0" r="3"/><circle cx="356.5" cy="110.6" r="3"/><circle cx="356.4" cy="110.6" r="3"/><circle cx="356.3" cy="132.4" r="3"/><circle cx="356.1" cy="133.8" r="3"/><circle cx="356.4" cy="90.6" r="3"/><circle cx="356.3" cy="111.1" r="3"/><circle cx="356.4" cy="128.6" r="3"/><circle cx="356.3" cy="127.1" r="3"/><circle cx="356.8" cy="130.2" r="3"/><circle cx="356.9" cy="140.2" r="3"/><circle cx="356.5" cy="105.2" r="3"/><circle cx="356.6" cy="105.1" r="3"/><circle cx="356.9" cy="142.0" r="3"/><circle cx="356.9" cy="95.9" r="3"/><circle cx="356.8" cy="87.8" r="3"/><circle cx="356.7" cy="95.3" r="3"/><circle cx="357.1" cy="92.1" r="3"/><circle cx="357.3" cy="107.8" r="3"/><circle cx="357.4" cy="102.2" r="3"/><circle cx="357.4" cy="94.0" r="3"/><circle cx="357.0" cy="112.1" r="3"/><circle cx="357.2" cy="119.4" r="3"/><circle cx="357.4" cy="103.0" r="3"/><circle cx="357.2" cy="136.7" r="3"/><circle cx="357.7" cy="98.7" r="3"/><circle cx="357.7" cy="113.5" r="3"/><circle cx="357.6" cy="105.6" r="3"/><circle cx="357.6" cy="112.8" r="3"/><circle cx="357.8" cy="104.8" r="3"/><circle cx="358.0" cy="127.0" r="3"/><circle cx="357.5" cy="125.7" r="3"/><circle cx="358.3" cy="125.8" r="3"/><circle cx="358.3" cy="100.1" r="3"/><circle cx="358.1" cy="94.6" r="3"/><circle cx="358.2" cy="129.6" r="3"/><circle cx="358.1" cy="139.9" r="3"/><circle cx="358.5" cy="138.2" r="3"/><circle cx="358.1" cy="130.4" r="3"/><circle cx="358.1" cy="116.0" r="3"/><circle cx="359.0" cy="125.3" r="3"/><circle cx="358.7" cy="126.4" r="3"/><circle cx="358.5" cy="98.7" r="3"/><circle cx="358.5" cy="110.0" r="3"/><circle cx="358.5" cy="114.0" r="3"/><circle cx="358.7" cy="95.8" r="3"/><circle cx="358.8" cy="114.9" r="3"/><circle cx="358.7" cy="134.4" r="3"/><circle cx="359.3" cy="139.8" r="3"/><circle cx="359.0" cy="112.9" r="3"/><circle cx="359.2" cy="90.4" r="3"/><circle cx="359.1" cy="125.6" r="3"/><circle cx="359.1" cy="114.4" r="3"/><circle cx="359.1" cy="95.4" r="3"/><circle cx="359.4" cy="110.7" r="3"/><circle cx="359.0" cy="126.8" r="3"/><circle cx="359.5" cy="94.3" r="3"/><circle cx="359.8" cy="102.7" r="3"/><circle cx="359.6" cy="135.1" r="3"/><circle cx="360.0" cy="92.5" r="3"/><circle cx="359.6" cy="129.9" r="3"/><circle cx="359.9" cy="140.3" r="3"/><circle cx="359.9" cy="92.6" r="3"/><circle cx="359.8" cy="115.8" r="3"/><circle cx="360.1" cy="90.1" r="3"/><circle cx="360.4" cy="91.7" r="3"/><circle cx="360.2" cy="130.2" r="3"/><circle cx="360.2" cy="102.1" r="3"/><circle cx="360.2" cy="117.9" r="3"/><circle cx="360.4" cy="132.0" r="3"/><circle cx="360.4" cy="106.6" r="3"/><circle cx="360.4" cy="138.0" r="3"/><circle cx="360.8" cy="140.5" r="3"/><circle cx="360.8" cy="120.9" r="3"/><circle cx="361.0" cy="129.6" r="3"/><circle cx="360.8" cy="93.9" r="3"/><circle cx="360.6" cy="133.4" r="3"/><circle cx="360.6" cy="125.4" r="3"/><circle cx="360.5" cy="107.6" r="3"/><circle cx="361.0" cy="122.9" r="3"/><circle cx="360.9" cy="138.8" r="3"/><circle cx="361.1" cy="93.5" r="3"/><circle cx="361.4" cy="107.8" r="3"/><circle cx="361.3" cy="129.5" r="3"/><circle cx="361.3" cy="107.1" r="3"/><circle cx="361.1" cy="137.5" r="3"/><circle cx="361.5" cy="117.6" r="3"/><circle cx="361.5" cy="124.6" r="3"/><circle cx="361.5" cy="105.9" r="3"/><circle cx="361.6" cy="138.7" r="3"/><circle cx="361.9" cy="124.7" r="3"/><circle cx="361.5" cy="104.5" r="3"/><circle cx="362.0" cy="104.6" r="3"/><circle cx="361.8" cy="123.1" r="3"/><circle cx="361.5" cy="95.4" r="3"/><circle cx="361.6" cy="99.1" r="3"/><circle cx="361.6" cy="124.6" r="3"/><circle cx="361.6" cy="143.0" r="3"/><circle cx="362.4" cy="113.3" r="3"/><circle cx="362.4" cy="108.5" r="3"/><circle cx="362.4" cy="103.0" r="3"/><circle cx="362.0" cy="105.4" r="3"/><circle cx="362.3" cy="99.8" r="3"/><circle cx="362.1" cy="100.9" r="3"/><circle cx="362.3" cy="110.4" r="3"/><circle cx="362.0" cy="95.5" r="3"/><circle cx="362.9" cy="109.5" r="3"/><circle cx="362.7" cy="104.2" r="3"/><circle cx="362.6" cy="139.4" r="3"/><circle cx="362.6" cy="102.9" r="3"/><circle cx="362.8" cy="109.6" r="3"/><circle cx="362.8" cy="94.8" r="3"/><circle cx="362.7" cy="93.8" r="3"/><circle cx="362.5" cy="125.8" r="3"/><circle cx="363.1" cy="144.7" r="3"/><circle cx="363.2" cy="142.0" r="3"/><circle cx="363.1" cy="95.8" r="3"/><circle cx="363.5" cy="133.3" r="3"/><circle cx="363.5" cy="140.6" r="3"/><circle cx="363.4" cy="100.4" r="3"/><circle cx="363.2" cy="140.1" r="3"/><circle cx="363.2" cy="87.9" r="3"/><circle cx="363.2" cy="123.6" r="3"/><circle cx="363.5" cy="100.9" r="3"/><circle cx="363.7" cy="93.6" r="3"/><circle cx="363.7" cy="103.4" r="3"/><circle cx="363.9" cy="99.2" r="3"/><circle cx="363.7" cy="132.8" r="3"/><circle cx="363.8" cy="103.1" r="3"/><circle cx="363.7" cy="139.6" r="3"/><circle cx="363.8" cy="127.7" r="3"/><circle cx="363.5" cy="124.4" r="3"/><circle cx="364.5" cy="116.5" r="3"/><circle cx="364.1" cy="121.7" r="3"/><circle cx="364.2" cy="139.5" r="3"/><circle cx="364.2" cy="107.6" r="3"/><circle cx="364.2" cy="93.5" r="3"/><circle cx="364.3" cy="92.4" r="3"/><circle cx="364.4" cy="118.9" r="3"/><circle cx="364.5" cy="98.1" r="3"/><circle cx="364.9" cy="119.9" r="3"/><circle cx="364.8" cy="100.3" r="3"/><circle cx="364.8" cy="134.4" r="3"/><circle cx="365.0" cy="105.1" r="3"/><circle cx="365.0" cy="91.9" r="3"/><circle cx="365.0" cy="92.0" r="3"/><circle cx="364.9" cy="117.4" r="3"/><circle cx="364.6" cy="116.6" r="3"/><circle cx="364.9" cy="120.1" r="3"/><circle cx="365.4" cy="96.0" r="3"/><circle cx="365.1" cy="125.1" r="3"/><circle cx="365.3" cy="117.2" r="3"/><circle cx="365.2" cy="121.9" r="3"/><circle cx="365.2" cy="92.8" r="3"/><circle cx="365.1" cy="123.0" r="3"/><circle cx="365.2" cy="103.4" r="3"/><circle cx="365.5" cy="111.7" r="3"/><circle cx="365.8" cy="109.4" r="3"/><circle cx="365.6" cy="142.2" r="3"/><circle cx="365.6" cy="94.1" r="3"/><circle cx="365.8" cy="96.1" r="3"/><circle cx="365.9" cy="109.2" r="3"/><circle cx="365.8" cy="140.3" r="3"/><circle cx="365.9" cy="138.0" r="3"/><circle cx="365.9" cy="122.4" r="3"/><circle cx="366.1" cy="106.6" r="3"/><circle cx="366.4" cy="132.7" r="3"/><circle cx="366.3" cy="93.1" r="3"/><circle cx="366.0" cy="95.7" r="3"/><circle cx="366.1" cy="92.5" r="3"/><circle cx="366.0" cy="139.2" r="3"/><circle cx="366.1" cy="138.4" r="3"/><circle cx="366.2" cy="107.6" r="3"/><circle cx="366.5" cy="92.3" r="3"/><circle cx="366.6" cy="143.2" r="3"/><circle cx="366.7" cy="108.6" r="3"/><circle cx="366.5" cy="119.0" r="3"/><circle cx="366.9" cy="110.7" r="3"/><circle cx="366.5" cy="130.5" r="3"/><circle cx="366.9" cy="126.0" r="3"/><circle cx="366.8" cy="96.8" r="3"/><circle cx="367.1" cy="120.1" r="3"/><circle cx="367.2" cy="104.7" r="3"/><circle cx="367.4" cy="93.8" r="3"/><circle cx="367.3" cy="122.8" r="3"/><circle cx="367.2" cy="102.1" r="3"/><circle cx="367.1" cy="99.8" r="3"/><circle cx="367.5" cy="126.5" r="3"/><circle cx="367.4" cy="107.4" r="3"/><circle cx="367.5" cy="143.2" r="3"/><circle cx="367.7" cy="145.6" r="3"/><circle cx="367.8" cy="142.5" r="3"/><circle cx="367.8" cy="126.5" r="3"/><circle cx="367.7" cy="142.7" r="3"/><circle cx="367.7" cy="102.9" r="3"/><circle cx="367.7" cy="129.0" r="3"/><circle cx="367.8" cy="136.8" r="3"/><circle cx="367.6" cy="122.7" r="3"/><circle cx="368.2" cy="98.4" r="3"/><circle cx="368.4" cy="95.6" r="3"/><circle cx="368.2" cy="96.4" r="3"/><circle cx="368.1" cy="94.7" r="3"/><circle cx="368.1" cy="141.2" r="3"/><circle cx="368.1" cy="145.5" r="3"/><circle cx="368.2" cy="112.6" r="3"/><circle cx="368.1" cy="138.6" r="3"/><circle cx="368.5" cy="134.8" r="3"/><circle cx="368.7" cy="106.0" r="3"/><circle cx="368.6" cy="98.5" r="3"/><circle cx="368.9" cy="141.1" r="3"/><circle cx="368.7" cy="104.4" r="3"/><circle cx="368.6" cy="141.5" r="3"/><circle cx="368.7" cy="101.2" r="3"/><circle cx="368.5" cy="119.7" r="3"/><circle cx="369.0" cy="135.1" r="3"/><circle cx="369.2" cy="104.9" r="3"/><circle cx="369.1" cy="110.3" r="3"/><circle cx="369.3" cy="111.8" r="3"/><circle cx="369.5" cy="103.9" r="3"/><circle cx="369.4" cy="126.9" r="3"/><circle cx="369.2" cy="123.5" r="3"/><circle cx="369.3" cy="142.0" r="3"/><circle cx="369.4" cy="108.7" r="3"/><circle cx="369.8" cy="144.5" r="3"/><circle cx="369.9" cy="91.0" r="3"/><circle cx="369.9" cy="108.4" r="3"/><circle cx="369.7" cy="102.5" r="3"/><circle cx="369.9" cy="140.2" r="3"/><circle cx="369.5" cy="91.9" r="3"/><circle cx="369.7" cy="114.3" r="3"/><circle cx="369.8" cy="107.0" r="3"/><circle cx="370.2" cy="127.2" r="3"/><circle cx="370.3" cy="97.3" r="3"/><circle cx="370.2" cy="115.3" r="3"/><circle cx="370.2" cy="102.1" r="3"/><circle cx="370.1" cy="125.4" r="3"/><circle cx="370.4" cy="90.5" r="3"/><circle cx="370.3" cy="141.6" r="3"/><circle cx="370.1" cy="109.2" r="3"/><circle cx="371.0" cy="134.3" r="3"/><circle cx="371.0" cy="126.0" r="3"/><circle cx="370.9" cy="107.9" r="3"/><circle cx="370.8" cy="116.0" r="3"/><circle cx="370.8" cy="139.8" r="3"/><circle cx="370.8" cy="135.6" r="3"/><circle cx="371.0" cy="109.5" r="3"/><circle cx="371.0" cy="88.0" r="3"/><circle cx="371.1" cy="118.9" r="3"/><circle cx="371.3" cy="112.4" r="3"/><circle cx="371.3" cy="112.2" r="3"/><circle cx="371.0" cy="139.9" r="3"/><circle cx="371.1" cy="127.8" r="3"/><circle cx="371.3" cy="100.6" r="3"/><circle cx="371.4" cy="120.1" r="3"/><circle cx="371.1" cy="126.0" r="3"/><circle cx="371.5" cy="90.2" r="3"/><circle cx="371.6" cy="124.4" r="3"/><circle cx="371.7" cy="139.7" r="3"/><circle cx="371.6" cy="101.7" r="3"/><circle cx="371.6" cy="106.6" r="3"/><circle cx="371.6" cy="140.9" r="3"/><circle cx="371.7" cy="100.9" r="3"/><circle cx="372.0" cy="115.3" r="3"/><circle cx="372.1" cy="99.1" r="3"/><circle cx="372.2" cy="138.2" r="3"/><circle cx="372.3" cy="108.9" r="3"/><circle cx="372.0" cy="142.3" r="3"/><circle cx="372.3" cy="109.1" r="3"/><circle cx="372.1" cy="112.8" r="3"/><circle cx="372.5" cy="127.2" r="3"/><circle cx="372.4" cy="132.7" r="3"/><circle cx="372.8" cy="137.1" r="3"/><circle cx="372.9" cy="97.7" r="3"/><circle cx="372.7" cy="90.2" r="3"/><circle cx="372.9" cy="109.5" r="3"/><circle cx="372.8" cy="136.4" r="3"/><circle cx="372.8" cy="110.6" r="3"/><circle cx="372.7" cy="109.8" r="3"/><circle cx="372.6" cy="117.8" r="3"/><circle cx="373.1" cy="139.9" r="3"/><circle cx="373.1" cy="99.2" r="3"/><circle cx="373.4" cy="127.0" r="3"/><circle cx="373.5" cy="118.4" r="3"/><circle cx="373.1" cy="112.8" r="3"/><circle cx="373.0" cy="110.5" r="3"/><circle cx="373.5" cy="120.5" r="3"/><circle cx="373.1" cy="91.8" r="3"/><circle cx="373.1" cy="122.1" r="3"/><circle cx="374.0" cy="124.1" r="3"/><circle cx="373.7" cy="112.8" r="3"/><circle cx="374.0" cy="138.5" r="3"/><circle cx="373.7" cy="140.4" r="3"/><circle cx="373.8" cy="91.1" r="3"/><circle cx="373.8" cy="88.9" r="3"/><circle cx="373.7" cy="120.7" r="3"/><circle cx="374.0" cy="133.0" r="3"/><circle cx="373.6" cy="141.6" r="3"/><circle cx="374.3" cy="91.0" r="3"/><circle cx="374.3" cy="111.8" r="3"/><circle cx="374.5" cy="111.6" r="3"/><circle cx="374.2" cy="121.4" r="3"/><circle cx="374.4" cy="135.1" r="3"/><circle cx="374.3" cy="139.2" r="3"/><circle cx="374.3" cy="104.6" r="3"/><circle cx="374.1" cy="115.4" r="3"/><circle cx="374.6" cy="128.1" r="3"/><circle cx="374.8" cy="135.2" r="3"/><circle cx="374.9" cy="96.3" r="3"/><circle cx="374.9" cy="97.5" r="3"/><circle cx="374.9" cy="104.3" r="3"/><circle cx="374.7" cy="144.6" r="3"/><circle cx="374.6" cy="123.2" r="3"/><circle cx="375.0" cy="136.9" r="3"/><circle cx="375.2" cy="128.1" r="3"/><circle cx="375.2" cy="137.2" r="3"/><circle cx="375.3" cy="99.0" r="3"/><circle cx="375.4" cy="117.8" r="3"/><circle cx="375.1" cy="110.0" r="3"/><circle cx="375.4" cy="91.3" r="3"/><circle cx="375.2" cy="92.0" r="3"/><circle cx="375.2" cy="126.7" r="3"/><circle cx="375.6" cy="140.2" r="3"/><circle cx="376.0" cy="99.9" r="3"/><circle cx="376.0" cy="104.0" r="3"/><circle cx="376.0" cy="121.2" r="3"/><circle cx="375.9" cy="117.4" r="3"/><circle cx="376.0" cy="141.0" r="3"/><circle cx="375.6" cy="127.5" r="3"/><circle cx="376.0" cy="137.8" r="3"/><circle cx="376.1" cy="111.3" r="3"/><circle cx="376.1" cy="115.5" r="3"/><circle cx="376.3" cy="128.3" r="3"/><circle cx="376.5" cy="109.5" r="3"/><circle cx="376.2" cy="146.4" r="3"/><circle cx="376.1" cy="93.5" r="3"/><circle cx="376.3" cy="122.0" r="3"/><circle cx="376.5" cy="109.3" r="3"/><circle cx="376.3" cy="133.0" r="3"/><circle cx="376.6" cy="138.1" r="3"/><circle cx="376.5" cy="89.5" r="3"/><circle cx="376.6" cy="116.2" r="3"/><circle cx="377.0" cy="124.5" r="3"/><circle cx="376.5" cy="125.9" r="3"/><circle cx="376.7" cy="138.1" r="3"/><circle cx="376.8" cy="88.4" r="3"/><circle cx="376.6" cy="89.9" r="3"/><circle cx="377.4" cy="141.7" r="3"/><circle cx="377.2" cy="137.9" r="3"/><circle cx="377.4" cy="91.4" r="3"/><circle cx="377.1" cy="139.6" r="3"/><circle cx="377.5" cy="137.3" r="3"/><circle cx="377.1" cy="123.1" r="3"/><circle cx="377.5" cy="109.1" r="3"/><circle cx="377.1" cy="141.9" r="3"/><circle cx="377.1" cy="130.1" r="3"/><circle cx="377.8" cy="111.6" r="3"/><circle cx="377.9" cy="90.8" r="3"/><circle cx="377.5" cy="103.5" r="3"/><circle cx="377.9" cy="107.9" r="3"/><circle cx="377.7" cy="131.6" r="3"/><circle cx="377.6" cy="120.6" r="3"/><circle cx="377.7" cy="140.4" r="3"/><circle cx="377.7" cy="112.1" r="3"/><circle cx="378.2" cy="99.4" r="3"/><circle cx="378.2" cy="125.4" r="3"/><circle cx="378.3" cy="89.3" r="3"/><circle cx="378.3" cy="94.8" r="3"/><circle cx="378.4" cy="143.3" r="3"/><circle cx="378.3" cy="100.0" r="3"/><circle cx="378.5" cy="96.4" r="3"/><circle cx="378.1" cy="110.9" r="3"/><circle cx="378.6" cy="107.8" r="3"/><circle cx="378.8" cy="110.9" r="3"/><circle cx="379.0" cy="142.5" r="3"/><circle cx="378.8" cy="140.8" r="3"/><circle cx="378.7" cy="123.6" r="3"/><circle cx="378.9" cy="136.0" r="3"/><circle cx="378.8" cy="140.7" r="3"/><circle cx="378.5" cy="138.0" r="3"/><circle cx="378.7" cy="97.4" r="3"/><circle cx="379.3" cy="108.4" r="3"/><circle cx="379.5" cy="105.0" r="3"/><circle cx="379.0" cy="91.9" r="3"/><circle cx="379.1" cy="122.0" r="3"/><circle cx="379.2" cy="97.4" r="3"/><circle cx="379.4" cy="90.2" r="3"/><circle cx="379.4" cy="134.8" r="3"/><circle cx="379.3" cy="137.6" r="3"/><circle cx="379.3" cy="101.3" r="3"/><circle cx="379.8" cy="116.0" r="3"/><circle cx="379.8" cy="115.6" r="3"/><circle cx="379.8" cy="100.7" r="3"/><circle cx="379.9" cy="125.0" r="3"/><circle cx="379.8" cy="135.4" r="3"/><circle cx="379.9" cy="110.9" r="3"/><circle cx="379.6" cy="126.3" r="3"/><circle cx="379.7" cy="106.4" r="3"/><circle cx="380.4" cy="102.9" r="3"/><circle cx="380.3" cy="121.7" r="3"/><circle cx="380.2" cy="91.5" r="3"/><circle cx="380.3" cy="116.6" r="3"/><circle cx="380.2" cy="102.7" r="3"/><circle cx="380.2" cy="126.5" r="3"/><circle cx="380.4" cy="114.8" r="3"/><circle cx="380.2" cy="132.6" r="3"/><circle cx="380.6" cy="100.6" r="3"/><circle cx="380.7" cy="131.8" r="3"/><circle cx="380.6" cy="111.9" r="3"/><circle cx="381.0" cy="97.6" r="3"/><circle cx="380.6" cy="119.8" r="3"/><circle cx="380.5" cy="109.7" r="3"/><circle cx="380.8" cy="107.5" r="3"/><circle cx="380.8" cy="93.0" r="3"/><circle cx="381.5" cy="131.8" r="3"/><circle cx="381.2" cy="118.8" r="3"/><circle cx="381.3" cy="122.0" r="3"/><circle cx="381.2" cy="139.2" r="3"/><circle cx="381.5" cy="97.4" r="3"/><circle cx="381.3" cy="103.3" r="3"/><circle cx="381.4" cy="90.3" r="3"/><circle cx="381.2" cy="128.2" r="3"/><circle cx="381.8" cy="102.6" r="3"/><circle cx="381.7" cy="117.5" r="3"/><circle cx="381.7" cy="138.8" r="3"/><circle cx="381.7" cy="143.6" r="3"/><circle cx="381.7" cy="91.3" r="3"/><circle cx="381.9" cy="105.4" r="3"/><circle cx="381.8" cy="99.9" r="3"/><circle cx="381.6" cy="132.0" r="3"/><circle cx="382.3" cy="120.5" r="3"/><circle cx="382.5" cy="139.1" r="3"/><circle cx="382.2" cy="140.5" r="3"/><circle cx="382.2" cy="107.7" r="3"/><circle cx="382.1" cy="110.6" r="3"/><circle cx="382.2" cy="112.7" r="3"/><circle cx="382.4" cy="113.2" r="3"/><circle cx="382.1" cy="93.3" r="3"/><circle cx="382.7" cy="115.0" r="3"/><circle cx="382.8" cy="141.4" r="3"/><circle cx="382.6" cy="121.8" r="3"/><circle cx="382.8" cy="140.9" r="3"/><circle cx="382.6" cy="120.5" r="3"/><circle cx="382.8" cy="117.3" r="3"/><circle cx="382.7" cy="102.3" r="3"/><circle cx="382.7" cy="126.8" r="3"/><circle cx="383.1" cy="122.1" r="3"/><circle cx="383.5" cy="91.9" r="3"/><circle cx="383.4" cy="104.3" r="3"/><circle cx="383.0" cy="116.0" r="3"/><circle cx="383.3" cy="130.3" r="3"/><circle cx="383.4" cy="101.4" r="3"/><circle cx="383.0" cy="91.6" r="3"/><circle cx="383.1" cy="139.1" r="3"/><circle cx="383.9" cy="133.6" r="3"/><circle cx="383.6" cy="128.6" r="3"/><circle cx="383.6" cy="125.7" r="3"/><circle cx="383.8" cy="117.4" r="3"/><circle cx="383.9" cy="139.1" r="3"/><circle cx="383.6" cy="136.0" r="3"/><circle cx="383.8" cy="103.4" r="3"/><circle cx="384.0" cy="102.0" r="3"/><circle cx="384.4" cy="93.2" r="3"/><circle cx="384.1" cy="108.4" r="3"/><circle cx="384.2" cy="122.2" r="3"/><circle cx="384.5" cy="141.3" r="3"/><circle cx="384.1" cy="128.1" r="3"/><circle cx="384.0" cy="129.3" r="3"/><circle cx="384.2" cy="114.1" r="3"/><circle cx="384.0" cy="112.1" r="3"/><circle cx="384.8" cy="117.3" r="3"/><circle cx="384.9" cy="138.2" r="3"/><circle cx="384.7" cy="129.3" r="3"/><circle cx="384.6" cy="100.7" r="3"/><circle cx="384.6" cy="98.8" r="3"/><circle cx="384.6" cy="98.8" r="3"/><circle cx="384.8" cy="113.7" r="3"/><circle cx="384.5" cy="130.3" r="3"/><circle cx="385.4" cy="90.4" r="3"/><circle cx="385.4" cy="101.9" r="3"/><circle cx="385.3" cy="102.4" r="3"/><circle cx="385.0" cy="113.9" r="3"/><circle cx="385.3" cy="99.0" r="3"/><circle cx="385.0" cy="141.1" r="3"/><circle cx="385.1" cy="143.2" r="3"/><circle cx="385.2" cy="103.4" r="3"/><circle cx="385.6" cy="124.9" r="3"/><circle cx="385.8" cy="91.5" r="3"/><circle cx="385.5" cy="101.5" r="3"/><circle cx="385.7" cy="134.4" r="3"/><circle cx="386.0" cy="91.2" r="3"/><circle cx="385.9" cy="111.9" r="3"/><circle cx="385.7" cy="100.1" r="3"/><circle cx="385.8" cy="122.1" r="3"/><circle cx="386.4" cy="117.3" r="3"/><circle cx="386.5" cy="132.0" r="3"/><circle cx="386.4" cy="120.7" r="3"/><circle cx="386.4" cy="139.0" r="3"/><circle cx="386.3" cy="121.8" r="3"/><circle cx="386.3" cy="106.8" r="3"/><circle cx="386.3" cy="142.4" r="3"/><circle cx="386.3" cy="105.9" r="3"/><circle cx="387.0" cy="95.1" r="3"/><circle cx="386.6" cy="108.7" r="3"/><circle cx="386.6" cy="110.8" r="3"/><circle cx="386.7" cy="135.8" r="3"/><circle cx="386.7" cy="135.9" r="3"/><circle cx="386.9" cy="109.8" r="3"/><circle cx="386.9" cy="140.8" r="3"/><circle cx="386.6" cy="126.6" r="3"/><circle cx="387.4" cy="134.4" r="3"/><circle cx="387.0" cy="110.8" r="3"/><circle cx="387.3" cy="105.7" r="3"/><circle cx="387.5" cy="91.4" r="3"/><circle cx="387.0" cy="124.4" r="3"/><circle cx="387.1" cy="137.8" r="3"/><circle cx="387.0" cy="137.3" r="3"/><circle cx="387.4" cy="98.2" r="3"/><circle cx="387.5" cy="129.8" r="3"/><circle cx="387.8" cy="140.3" r="3"/><circle cx="387.5" cy="138.3" r="3"/><circle cx="387.6" cy="124.5" r="3"/><circle cx="387.6" cy="111.7" r="3"/><circle cx="387.8" cy="104.4" r="3"/><circle cx="387.6" cy="114.3" r="3"/><circle cx="387.9" cy="114.7" r="3"/><circle cx="388.5" cy="104.3" r="3"/><circle cx="388.1" cy="134.4" r="3"/><circle cx="388.5" cy="101.2" r="3"/><circle cx="388.0" cy="117.1" r="3"/><circle cx="388.1" cy="137.2" r="3"/><circle cx="388.3" cy="96.3" r="3"/><circle cx="388.3" cy="121.2" r="3"/><circle cx="388.2" cy="135.2" r="3"/><circle cx="388.8" cy="125.2" r="3"/><circle cx="388.6" cy="115.1" r="3"/><circle cx="389.0" cy="126.9" r="3"/><circle cx="388.9" cy="102.8" r="3"/><circle cx="388.9" cy="129.4" r="3"/><circle cx="388.7" cy="113.3" r="3"/><circle cx="388.9" cy="129.8" r="3"/><circle cx="388.6" cy="141.6" r="3"/><circle cx="389.1" cy="96.6" r="3"/><circle cx="389.2" cy="129.9" r="3"/><circle cx="389.2" cy="104.0" r="3"/><circle cx="389.0" cy="109.0" r="3"/><circle cx="389.5" cy="92.0" r="3"/><circle cx="389.0" cy="93.1" r="3"/><circle cx="389.1" cy="114.5" r="3"/><circle cx="389.5" cy="108.7" r="3"/><circle cx="389.9" cy="92.9" r="3"/><circle cx="389.9" cy="116.5" r="3"/><circle cx="389.7" cy="103.9" r="3"/><circle cx="389.9" cy="117.6" r="3"/><circle cx="389.9" cy="133.1" r="3"/><circle cx="389.7" cy="133.4" r="3"/><circle cx="390.0" cy="123.5" r="3"/><circle cx="389.9" cy="133.8" r="3"/><circle cx="390.1" cy="106.1" r="3"/><circle cx="390.3" cy="103.0" r="3"/><circle cx="390.2" cy="139.2" r="3"/><circle cx="390.4" cy="111.8" r="3"/><circle cx="390.5" cy="139.6" r="3"/><circle cx="390.2" cy="91.6" r="3"/><circle cx="390.4" cy="110.4" r="3"/><circle cx="390.2" cy="102.6" r="3"/><circle cx="390.7" cy="114.5" r="3"/><circle cx="390.7" cy="101.0" r="3"/><circle cx="390.5" cy="136.6" r="3"/><circle cx="391.0" cy="123.0" r="3"/><circle cx="390.5" cy="117.8" r="3"/><circle cx="390.5" cy="119.6" r="3"/><circle cx="390.7" cy="113.9" r="3"/><circle cx="390.8" cy="127.6" r="3"/><circle cx="391.4" cy="135.8" r="3"/><circle cx="391.1" cy="121.5" r="3"/><circle cx="391.1" cy="131.7" r="3"/><circle cx="391.4" cy="105.1" r="3"/><circle cx="391.5" cy="116.1" r="3"/><circle cx="391.5" cy="117.1" r="3"/><circle cx="391.4" cy="116.5" r="3"/><circle cx="391.3" cy="113.2" r="3"/><circle cx="391.7" cy="92.6" r="3"/><circle cx="391.8" cy="91.9" r="3"/><circle cx="391.6" cy="108.9" r="3"/><circle cx="391.7" cy="118.9" r="3"/><circle cx="392.0" cy="126.6" r="3"/><circle cx="391.7" cy="109.1" r="3"/><circle cx="391.8" cy="137.2" r="3"/><circle cx="391.6" cy="92.8" r="3"/><circle cx="392.3" cy="138.3" r="3"/><circle cx="392.2" cy="90.3" r="3"/><circle cx="392.3" cy="138.1" r="3"/><circle cx="392.1" cy="114.5" r="3"/><circle cx="392.5" cy="101.6" r="3"/><circle cx="392.4" cy="92.0" r="3"/><circle cx="392.4" cy="141.6" r="3"/><circle cx="392.5" cy="128.9" r="3"/><circle cx="392.8" cy="105.9" r="3"/><circle cx="392.6" cy="117.1" r="3"/><circle cx="392.9" cy="98.0" r="3"/><circle cx="392.8" cy="122.9" r="3"/><circle cx="392.7" cy="125.9" r="3"/><circle cx="392.7" cy="126.1" r="3"/><circle cx="392.9" cy="138.9" r="3"/><circle cx="392.9" cy="90.9" r="3"/><circle cx="393.4" cy="136.3" r="3"/><circle cx="393.2" cy="93.4" r="3"/><circle cx="393.4" cy="123.6" r="3"/><circle cx="393.2" cy="97.6" r="3"/><circle cx="393.1" cy="124.7" r="3"/><circle cx="393.3" cy="130.2" r="3"/><circle cx="393.5" cy="132.7" r="3"/><circle cx="393.1" cy="130.1" r="3"/><circle cx="393.6" cy="125.9" r="3"/><circle cx="393.7" cy="113.2" r="3"/><circle cx="393.6" cy="108.6" r="3"/><circle cx="393.8" cy="132.8" r="3"/><circle cx="393.7" cy="104.7" r="3"/><circle cx="394.0" cy="132.0" r="3"/><circle cx="394.0" cy="98.1" r="3"/><circle cx="394.0" cy="110.2" r="3"/><circle cx="394.4" cy="108.5" r="3"/><circle cx="394.2" cy="112.7" r="3"/><circle cx="394.0" cy="124.2" r="3"/><circle cx="394.2" cy="108.5" r="3"/><circle cx="394.3" cy="133.7" r="3"/><circle cx="394.0" cy="141.6" r="3"/><circle cx="394.5" cy="111.7" r="3"/><circle cx="394.1" cy="110.4" r="3"/><circle cx="394.6" cy="110.8" r="3"/><circle cx="395.0" cy="111.7" r="3"/><circle cx="394.6" cy="94.4" r="3"/><circle cx="394.6" cy="131.2" r="3"/><circle cx="394.8" cy="115.7" r="3"/><circle cx="394.7" cy="90.5" r="3"/><circle cx="394.5" cy="105.3" r="3"/><circle cx="395.2" cy="94.0" r="3"/><circle cx="395.4" cy="89.3" r="3"/><circle cx="395.2" cy="104.8" r="3"/><circle cx="395.1" cy="100.6" r="3"/><circle cx="395.4" cy="112.9" r="3"/><circle cx="395.3" cy="129.1" r="3"/><circle cx="395.3" cy="110.1" r="3"/><circle cx="395.3" cy="136.8" r="3"/><circle cx="395.9" cy="102.6" r="3"/><circle cx="395.9" cy="88.2" r="3"/><circle cx="395.6" cy="105.8" r="3"/><circle cx="395.9" cy="105.7" r="3"/><circle cx="395.8" cy="126.9" r="3"/><circle cx="395.7" cy="137.2" r="3"/><circle cx="395.9" cy="92.5" r="3"/><circle cx="395.8" cy="90.6" r="3"/><circle cx="395.7" cy="127.3" r="3"/><circle cx="395.8" cy="143.0" r="3"/><circle cx="396.2" cy="91.8" r="3"/><circle cx="396.1" cy="90.6" r="3"/><circle cx="396.3" cy="126.9" r="3"/><circle cx="396.3" cy="125.4" r="3"/><circle cx="396.3" cy="116.4" r="3"/><circle cx="396.2" cy="101.0" r="3"/><circle cx="396.2" cy="96.4" r="3"/><circle cx="396.1" cy="118.4" r="3"/><circle cx="396.6" cy="96.4" r="3"/><circle cx="396.9" cy="104.3" r="3"/><circle cx="396.9" cy="104.9" r="3"/><circle cx="396.6" cy="117.5" r="3"/><circle cx="396.5" cy="135.5" r="3"/><circle cx="396.6" cy="106.6" r="3"/><circle cx="396.5" cy="132.8" r="3"/><circle cx="396.5" cy="106.0" r="3"/><circle cx="397.1" cy="108.6" r="3"/><circle cx="397.3" cy="103.3" r="3"/><circle cx="397.3" cy="105.8" r="3"/><circle cx="397.2" cy="124.8" r="3"/><circle cx="397.3" cy="127.8" r="3"/><circle cx="397.1" cy="106.9" r="3"/><circle cx="397.0" cy="119.5" r="3"/><circle cx="397.0" cy="132.2" r="3"/><circle cx="397.7" cy="107.8" r="3"/><circle cx="397.8" cy="100.7" r="3"/><circle cx="397.6" cy="136.3" r="3"/><circle cx="397.6" cy="93.9" r="3"/><circle cx="397.8" cy="98.7" r="3"/><circle cx="397.5" cy="127.9" r="3"/><circle cx="397.6" cy="130.8" r="3"/><circle cx="397.7" cy="126.5" r="3"/><circle cx="398.5" cy="107.4" r="3"/><circle cx="398.3" cy="101.0" r="3"/><circle cx="398.4" cy="97.3" r="3"/><circle cx="398.3" cy="125.7" r="3"/><circle cx="398.1" cy="135.1" r="3"/><circle cx="398.2" cy="124.5" r="3"/><circle cx="398.4" cy="110.4" r="3"/><circle cx="398.4" cy="90.2" r="3"/><circle cx="398.7" cy="93.1" r="3"/><circle cx="398.9" cy="91.2" r="3"/><circle cx="399.0" cy="111.0" r="3"/><circle cx="398.5" cy="134.8" r="3"/><circle cx="398.8" cy="124.6" r="3"/><circle cx="398.8" cy="90.1" r="3"/><circle cx="398.5" cy="104.3" r="3"/><circle cx="398.5" cy="104.1" r="3"/><circle cx="398.9" cy="144.7" r="3"/><circle cx="399.3" cy="121.6" r="3"/><circle cx="399.5" cy="110.4" r="3"/><circle cx="399.2" cy="91.0" r="3"/><circle cx="399.5" cy="91.1" r="3"/><circle cx="399.0" cy="124.6" r="3"/><circle cx="399.2" cy="114.0" r="3"/><circle cx="399.4" cy="114.8" r="3"/><circle cx="399.2" cy="131.1" r="3"/><circle cx="399.2" cy="137.8" r="3"/><circle cx="399.8" cy="114.7" r="3"/><circle cx="399.5" cy="101.6" r="3"/><circle cx="399.6" cy="105.9" r="3"/><circle cx="400.0" cy="93.5" r="3"/><circle cx="399.8" cy="131.0" r="3"/><circle cx="399.7" cy="125.7" r="3"/><circle cx="399.8" cy="101.1" r="3"/><circle cx="399.6" cy="126.4" r="3"/><circle cx="399.9" cy="142.8" r="3"/><circle cx="400.4" cy="96.7" r="3"/><circle cx="400.4" cy="120.7" r="3"/><circle cx="400.5" cy="116.9" r="3"/><circle cx="400.3" cy="121.0" r="3"/><circle cx="400.3" cy="125.5" r="3"/><circle cx="400.2" cy="110.8" r="3"/><circle cx="400.2" cy="116.8" r="3"/><circle cx="400.2" cy="110.9" r="3"/><circle cx="400.7" cy="109.4" r="3"/><circle cx="400.6" cy="108.2" r="3"/><circle cx="400.9" cy="92.0" r="3"/><circle cx="400.7" cy="104.6" r="3"/><circle cx="400.9" cy="94.6" r="3"/><circle cx="400.6" cy="102.6" r="3"/><circle cx="400.7" cy="127.1" r="3"/><circle cx="400.9" cy="102.3" r="3"/><circle cx="401.4" cy="135.2" r="3"/><circle cx="401.0" cy="98.4" r="3"/><circle cx="401.4" cy="95.0" r="3"/><circle cx="401.4" cy="112.8" r="3"/><circle cx="401.0" cy="119.0" r="3"/><circle cx="401.1" cy="110.5" r="3"/><circle cx="401.1" cy="124.0" r="3"/><circle cx="401.3" cy="107.0" r="3"/><circle cx="401.4" cy="138.9" r="3"/><circle cx="402.0" cy="133.3" r="3"/><circle cx="401.6" cy="118.5" r="3"/><circle cx="401.8" cy="119.2" r="3"/><circle cx="401.6" cy="93.5" r="3"/><circle cx="401.7" cy="99.5" r="3"/><circle cx="401.8" cy="131.3" r="3"/><circle cx="401.6" cy="117.6" r="3"/><circle cx="401.6" cy="98.8" r="3"/><circle cx="402.1" cy="97.7" r="3"/><circle cx="402.4" cy="109.2" r="3"/><circle cx="402.2" cy="112.7" r="3"/><circle cx="402.2" cy="131.3" r="3"/><circle cx="402.5" cy="102.9" r="3"/><circle cx="402.2" cy="121.7" r="3"/><circle cx="402.4" cy="97.9" r="3"/><circle cx="402.2" cy="122.4" r="3"/><circle cx="402.8" cy="121.4" r="3"/><circle cx="402.5" cy="91.5" r="3"/><circle cx="402.9" cy="101.1" r="3"/><circle cx="402.6" cy="106.1" r="3"/><circle cx="402.7" cy="104.1" r="3"/><circle cx="402.8" cy="126.0" r="3"/><circle cx="402.6" cy="120.2" r="3"/><circle cx="402.6" cy="89.9" r="3"/><circle cx="402.9" cy="139.2" r="3"/><circle cx="403.4" cy="133.9" r="3"/><circle cx="403.5" cy="94.0" r="3"/><circle cx="403.1" cy="128.2" r="3"/><circle cx="403.4" cy="107.2" r="3"/><circle cx="403.1" cy="96.3" r="3"/><circle cx="403.3" cy="133.8" r="3"/><circle cx="403.1" cy="104.1" r="3"/><circle cx="403.0" cy="134.1" r="3"/><circle cx="403.6" cy="131.4" r="3"/><circle cx="403.8" cy="118.7" r="3"/><circle cx="403.9" cy="99.6" r="3"/><circle cx="403.6" cy="99.4" r="3"/><circle cx="403.8" cy="112.2" r="3"/><circle cx="403.7" cy="129.9" r="3"/><circle cx="403.7" cy="91.8" r="3"/><circle cx="403.9" cy="117.5" r="3"/><circle cx="403.9" cy="136.4" r="3"/><circle cx="404.2" cy="125.3" r="3"/><circle cx="404.2" cy="119.6" r="3"/><circle cx="404.2" cy="98.9" r="3"/><circle cx="404.3" cy="108.2" r="3"/><circle cx="404.4" cy="108.9" r="3"/><circle cx="404.5" cy="105.8" r="3"/><circle cx="404.4" cy="130.6" r="3"/><circle cx="404.3" cy="125.0" r="3"/><circle cx="404.0" cy="135.7" r="3"/><circle cx="404.6" cy="114.4" r="3"/><circle cx="404.9" cy="125.1" r="3"/><circle cx="404.6" cy="105.2" r="3"/><circle cx="404.7" cy="120.8" r="3"/><circle cx="404.9" cy="98.4" r="3"/><circle cx="404.7" cy="125.8" r="3"/><circle cx="404.9" cy="113.3" r="3"/><circle cx="404.8" cy="106.7" r="3"/><circle cx="404.9" cy="142.4" r="3"/><circle cx="405.4" cy="128.4" r="3"/><circle cx="405.1" cy="95.5" r="3"/><circle cx="405.4" cy="93.6" r="3"/><circle cx="405.3" cy="114.8" r="3"/><circle cx="405.0" cy="115.0" r="3"/><circle cx="405.1" cy="96.2" r="3"/><circle cx="405.4" cy="118.4" r="3"/><circle cx="405.0" cy="130.3" r="3"/><circle cx="405.4" cy="134.9" r="3"/><circle cx="405.8" cy="98.4" r="3"/><circle cx="405.7" cy="122.5" r="3"/><circle cx="406.0" cy="103.3" r="3"/><circle cx="405.7" cy="119.8" r="3"/><circle cx="405.9" cy="111.9" r="3"/><circle cx="405.8" cy="128.0" r="3"/><circle cx="405.9" cy="115.0" r="3"/><circle cx="405.5" cy="131.2" r="3"/><circle cx="406.2" cy="98.0" r="3"/><circle cx="406.2" cy="125.3" r="3"/><circle cx="406.0" cy="118.2" r="3"/><circle cx="406.3" cy="95.1" r="3"/><circle cx="406.2" cy="102.6" r="3"/><circle cx="406.5" cy="91.7" r="3"/><circle cx="406.2" cy="114.6" r="3"/><circle cx="406.2" cy="116.4" r="3"/><circle cx="406.6" cy="95.0" r="3"/><circle cx="406.7" cy="97.0" r="3"/><circle cx="407.0" cy="125.4" r="3"/><circle cx="406.5" cy="100.9" r="3"/><circle cx="406.8" cy="94.3" r="3"/><circle cx="406.8" cy="119.0" r="3"/><circle cx="406.9" cy="104.0" r="3"/><circle cx="407.0" cy="103.3" r="3"/><circle cx="407.1" cy="116.4" r="3"/><circle cx="407.4" cy="126.8" r="3"/><circle cx="407.1" cy="111.4" r="3"/><circle cx="407.5" cy="121.2" r="3"/><circle cx="407.2" cy="92.2" r="3"/><circle cx="407.1" cy="115.7" r="3"/><circle cx="407.5" cy="105.4" r="3"/><circle cx="407.1" cy="134.3" r="3"/><circle cx="407.8" cy="94.5" r="3"/><circle cx="408.0" cy="130.6" r="3"/><circle cx="408.0" cy="106.6" r="3"/><circle cx="407.6" cy="129.6" r="3"/><circle cx="407.8" cy="90.5" r="3"/><circle cx="408.0" cy="114.7" r="3"/><circle cx="407.6" cy="126.4" r="3"/><circle cx="408.2" cy="101.9" r="3"/><circle cx="408.4" cy="101.2" r="3"/><circle cx="408.5" cy="95.7" r="3"/><circle cx="408.3" cy="91.5" r="3"/><circle cx="408.0" cy="97.6" r="3"/><circle cx="408.2" cy="123.1" r="3"/><circle cx="408.5" cy="129.7" r="3"/><circle cx="408.3" cy="102.7" r="3"/><circle cx="408.8" cy="107.7" r="3"/><circle cx="408.9" cy="99.7" r="3"/><circle cx="408.6" cy="89.5" r="3"/><circle cx="408.6" cy="108.9" r="3"/><circle cx="408.7" cy="114.8" r="3"/><circle cx="408.5" cy="91.4" r="3"/><circle cx="408.6" cy="97.1" r="3"/><circle cx="409.4" cy="92.2" r="3"/><circle cx="409.0" cy="105.9" r="3"/><circle cx="409.3" cy="101.0" r="3"/><circle cx="409.0" cy="100.0" r="3"/><circle cx="409.1" cy="96.1" r="3"/><circle cx="409.2" cy="129.6" r="3"/><circle cx="409.1" cy="110.1" r="3"/><circle cx="409.2" cy="138.8" r="3"/><circle cx="409.7" cy="115.6" r="3"/><circle cx="409.9" cy="96.0" r="3"/><circle cx="409.6" cy="106.0" r="3"/><circle cx="409.7" cy="120.6" r="3"/><circle cx="409.8" cy="117.9" r="3"/><circle cx="409.7" cy="99.0" r="3"/><circle cx="410.0" cy="125.8" r="3"/><circle cx="409.6" cy="104.4" r="3"/><circle cx="409.6" cy="139.2" r="3"/><circle cx="410.2" cy="127.0" r="3"/><circle cx="410.1" cy="124.3" r="3"/><circle cx="410.0" cy="128.7" r="3"/><circle cx="410.4" cy="109.8" r="3"/><circle cx="410.3" cy="126.7" r="3"/><circle cx="410.2" cy="91.5" r="3"/><circle cx="410.3" cy="91.8" r="3"/><circle cx="410.4" cy="131.1" r="3"/><circle cx="410.8" cy="114.9" r="3"/><circle cx="410.5" cy="120.8" r="3"/><circle cx="410.9" cy="103.8" r="3"/><circle cx="410.6" cy="93.3" r="3"/><circle cx="410.6" cy="121.9" r="3"/><circle cx="410.8" cy="106.4" r="3"/><circle cx="411.0" cy="108.2" r="3"/><circle cx="411.0" cy="97.2" r="3"/><circle cx="411.3" cy="116.6" r="3"/><circle cx="411.5" cy="101.8" r="3"/><circle cx="411.2" cy="92.7" r="3"/><circle cx="411.5" cy="94.5" r="3"/><circle cx="411.0" cy="121.8" r="3"/><circle cx="411.4" cy="96.1" r="3"/><circle cx="411.5" cy="92.5" r="3"/><circle cx="411.8" cy="122.0" r="3"/><circle cx="411.6" cy="123.0" r="3"/><circle cx="412.0" cy="92.1" r="3"/><circle cx="411.9" cy="119.9" r="3"/><circle cx="411.9" cy="127.7" r="3"/><circle cx="411.5" cy="126.8" r="3"/><circle cx="412.0" cy="127.4" r="3"/><circle cx="412.5" cy="96.6" r="3"/><circle cx="412.3" cy="117.1" r="3"/><circle cx="412.2" cy="104.0" r="3"/><circle cx="412.4" cy="117.1" r="3"/><circle cx="412.4" cy="122.3" r="3"/><circle cx="412.3" cy="106.6" r="3"/><circle cx="412.2" cy="128.5" r="3"/><circle cx="412.8" cy="117.9" r="3"/><circle cx="412.9" cy="117.5" r="3"/><circle cx="412.8" cy="100.0" r="3"/><circle cx="412.6" cy="101.5" r="3"/><circle cx="413.0" cy="114.4" r="3"/><circle cx="412.8" cy="101.3" r="3"/><circle cx="412.7" cy="91.2" r="3"/><circle cx="413.2" cy="119.5" r="3"/><circle cx="413.5" cy="89.6" r="3"/><circle cx="413.1" cy="96.4" r="3"/><circle cx="413.1" cy="115.0" r="3"/><circle cx="413.1" cy="91.8" r="3"/><circle cx="413.0" cy="99.2" r="3"/><circle cx="413.2" cy="100.5" r="3"/><circle cx="413.2" cy="131.4" r="3"/><circle cx="413.5" cy="109.1" r="3"/><circle cx="413.7" cy="123.2" r="3"/><circle cx="413.9" cy="120.4" r="3"/><circle cx="413.8" cy="109.4" r="3"/><circle cx="413.8" cy="103.1" r="3"/><circle cx="413.8" cy="113.8" r="3"/><circle cx="413.5" cy="94.4" r="3"/><circle cx="414.4" cy="92.0" r="3"/><circle cx="414.1" cy="103.9" r="3"/><circle cx="414.4" cy="120.1" r="3"/><circle cx="414.1" cy="124.1" r="3"/><circle cx="414.1" cy="115.1" r="3"/><circle cx="414.4" cy="95.4" r="3"/><circle cx="414.1" cy="127.6" r="3"/><circle cx="414.9" cy="121.0" r="3"/><circle cx="414.6" cy="110.2" r="3"/><circle cx="414.5" cy="97.0" r="3"/><circle cx="414.8" cy="122.1" r="3"/><circle cx="414.8" cy="99.4" r="3"/><circle cx="414.5" cy="92.9" r="3"/><circle cx="414.5" cy="112.4" r="3"/><circle cx="414.8" cy="128.7" r="3"/><circle cx="415.2" cy="105.3" r="3"/><circle cx="415.5" cy="120.2" r="3"/><circle cx="415.4" cy="110.1" r="3"/><circle cx="415.5" cy="124.3" r="3"/><circle cx="415.3" cy="99.3" r="3"/><circle cx="415.4" cy="99.8" r="3"/><circle cx="415.2" cy="115.9" r="3"/><circle cx="415.4" cy="136.9" r="3"/><circle cx="415.8" cy="100.8" r="3"/><circle cx="415.7" cy="123.3" r="3"/><circle cx="415.7" cy="92.9" r="3"/><circle cx="415.6" cy="102.3" r="3"/><circle cx="415.6" cy="94.3" r="3"/><circle cx="415.8" cy="103.6" r="3"/><circle cx="415.6" cy="130.6" r="3"/><circle cx="416.2" cy="101.3" r="3"/><circle cx="416.2" cy="116.5" r="3"/><circle cx="416.1" cy="92.2" r="3"/><circle cx="416.2" cy="104.2" r="3"/><circle cx="416.2" cy="123.8" r="3"/><circle cx="416.3" cy="123.8" r="3"/><circle cx="416.2" cy="119.3" r="3"/><circle cx="416.3" cy="142.2" r="3"/><circle cx="416.8" cy="104.2" r="3"/><circle cx="416.7" cy="121.9" r="3"/><circle cx="416.6" cy="121.2" r="3"/><circle cx="417.0" cy="107.9" r="3"/><circle cx="416.9" cy="98.9" r="3"/><circle cx="416.9" cy="89.0" r="3"/><circle cx="416.9" cy="95.8" r="3"/><circle cx="416.7" cy="138.8" r="3"/><circle cx="417.2" cy="96.9" r="3"/><circle cx="417.1" cy="90.2" r="3"/><circle cx="417.4" cy="110.5" r="3"/><circle cx="417.2" cy="107.5" r="3"/><circle cx="417.5" cy="100.5" r="3"/><circle cx="417.3" cy="108.4" r="3"/><circle cx="417.3" cy="122.8" r="3"/><circle cx="417.1" cy="140.1" r="3"/><circle cx="417.7" cy="110.6" r="3"/><circle cx="417.9" cy="96.5" r="3"/><circle cx="417.9" cy="101.9" r="3"/><circle cx="418.0" cy="121.5" r="3"/><circle cx="417.6" cy="90.3" r="3"/><circle cx="417.6" cy="120.9" r="3"/><circle cx="417.9" cy="122.9" r="3"/><circle cx="417.7" cy="125.0" r="3"/><circle cx="418.5" cy="100.8" r="3"/><circle cx="418.3" cy="90.6" r="3"/><circle cx="418.2" cy="115.7" r="3"/><circle cx="418.4" cy="99.1" r="3"/><circle cx="418.0" cy="93.5" r="3"/><circle cx="418.2" cy="87.9" r="3"/><circle cx="418.3" cy="123.8" r="3"/><circle cx="418.7" cy="105.9" r="3"/><circle cx="418.6" cy="113.6" r="3"/><circle cx="418.6" cy="93.6" r="3"/><circle cx="419.0" cy="122.3" r="3"/><circle cx="418.9" cy="95.9" r="3"/><circle cx="419.0" cy="106.8" r="3"/><circle cx="418.6" cy="95.7" r="3"/><circle cx="418.8" cy="133.6" r="3"/><circle cx="419.5" cy="88.6" r="3"/><circle cx="419.4" cy="100.2" r="3"/><circle cx="419.4" cy="116.5" r="3"/><circle cx="419.0" cy="110.8" r="3"/><circle cx="419.4" cy="111.0" r="3"/><circle cx="419.1" cy="95.5" r="3"/><circle cx="419.1" cy="94.5" r="3"/><circle cx="419.3" cy="137.8" r="3"/><circle cx="419.8" cy="99.3" r="3"/><circle cx="419.7" cy="103.3" r="3"/><circle cx="419.8" cy="122.2" r="3"/><circle cx="419.7" cy="109.8" r="3"/><circle cx="419.5" cy="113.8" r="3"/><circle cx="419.8" cy="101.6" r="3"/><circle cx="419.8" cy="130.1" r="3"/><circle cx="420.1" cy="108.1" r="3"/><circle cx="420.2" cy="107.1" r="3"/><circle cx="420.5" cy="117.3" r="3"/><circle cx="420.0" cy="99.5" r="3"/><circle cx="420.4" cy="92.7" r="3"/><circle cx="420.2" cy="102.2" r="3"/><circle cx="420.2" cy="96.8" r="3"/><circle cx="420.3" cy="134.7" r="3"/><circle cx="420.8" cy="92.9" r="3"/><circle cx="420.8" cy="119.6" r="3"/><circle cx="420.8" cy="106.0" r="3"/><circle cx="421.0" cy="105.9" r="3"/><circle cx="420.7" cy="92.1" r="3"/><circle cx="420.8" cy="110.6" r="3"/><circle cx="420.9" cy="119.7" r="3"/><circle cx="420.9" cy="122.1" r="3"/><circle cx="421.2" cy="93.0" r="3"/><circle cx="421.0" cy="109.8" r="3"/><circle cx="421.3" cy="118.7" r="3"/><circle cx="421.5" cy="112.9" r="3"/><circle cx="421.4" cy="111.1" r="3"/><circle cx="421.4" cy="105.7" r="3"/><circle cx="421.4" cy="123.3" r="3"/><circle cx="421.8" cy="87.3" r="3"/><circle cx="421.8" cy="95.1" r="3"/><circle cx="421.6" cy="101.7" r="3"/><circle cx="421.8" cy="93.3" r="3"/><circle cx="421.9" cy="118.4" r="3"/><circle cx="421.9" cy="90.2" r="3"/><circle cx="421.7" cy="119.3" r="3"/><circle cx="421.6" cy="134.8" r="3"/><circle cx="422.2" cy="106.2" r="3"/><circle cx="422.2" cy="112.5" r="3"/><circle cx="422.4" cy="104.1" r="3"/><circle cx="422.2" cy="96.5" r="3"/><circle cx="422.1" cy="93.9" r="3"/><circle cx="422.4" cy="99.7" r="3"/><circle cx="422.2" cy="121.8" r="3"/><circle cx="422.7" cy="91.2" r="3"/><circle cx="422.6" cy="106.9" r="3"/><circle cx="422.7" cy="95.6" r="3"/><circle cx="422.8" cy="108.2" r="3"/><circle cx="422.7" cy="106.0" r="3"/><circle cx="422.7" cy="92.6" r="3"/><circle cx="423.0" cy="142.5" r="3"/><circle cx="422.6" cy="133.2" r="3"/><circle cx="423.3" cy="110.3" r="3"/><circle cx="423.4" cy="99.5" r="3"/><circle cx="423.4" cy="113.3" r="3"/><circle cx="423.2" cy="103.5" r="3"/><circle cx="423.4" cy="89.3" r="3"/><circle cx="423.3" cy="105.8" r="3"/><circle cx="423.2" cy="120.9" r="3"/><circle cx="423.6" cy="99.2" r="3"/><circle cx="424.0" cy="101.5" r="3"/><circle cx="423.6" cy="119.0" r="3"/><circle cx="423.7" cy="94.9" r="3"/><circle cx="423.9" cy="86.9" r="3"/><circle cx="424.0" cy="99.7" r="3"/><circle cx="423.9" cy="138.1" r="3"/><circle cx="424.0" cy="120.5" r="3"/><circle cx="424.3" cy="108.7" r="3"/><circle cx="424.2" cy="116.6" r="3"/><circle cx="424.4" cy="91.9" r="3"/><circle cx="424.0" cy="110.0" r="3"/><circle cx="424.2" cy="90.4" r="3"/><circle cx="424.3" cy="97.3" r="3"/><circle cx="424.4" cy="130.4" r="3"/><circle cx="424.4" cy="121.6" r="3"/><circle cx="424.9" cy="117.9" r="3"/><circle cx="424.9" cy="114.5" r="3"/><circle cx="424.6" cy="110.3" r="3"/><circle cx="424.9" cy="100.9" r="3"/><circle cx="425.0" cy="99.9" r="3"/><circle cx="424.7" cy="120.0" r="3"/><circle cx="425.0" cy="120.2" r="3"/><circle cx="425.3" cy="106.5" r="3"/><circle cx="425.5" cy="104.5" r="3"/><circle cx="425.2" cy="106.2" r="3"/><circle cx="425.3" cy="95.9" r="3"/><circle cx="425.0" cy="103.7" r="3"/><circle cx="425.4" cy="95.7" r="3"/><circle cx="425.1" cy="132.4" r="3"/><circle cx="425.2" cy="123.2" r="3"/><circle cx="425.8" cy="102.8" r="3"/><circle cx="425.6" cy="117.8" r="3"/><circle cx="425.7" cy="106.8" r="3"/><circle cx="425.8" cy="93.0" r="3"/><circle cx="425.7" cy="117.1" r="3"/><circle cx="425.8" cy="100.5" r="3"/><circle cx="425.7" cy="132.8" r="3"/><circle cx="426.4" cy="106.9" r="3"/><circle cx="426.0" cy="103.5" r="3"/><circle cx="426.1" cy="95.9" r="3"/><circle cx="426.2" cy="109.8" r="3"/><circle cx="426.1" cy="98.2" r="3"/><circle cx="426.3" cy="95.8" r="3"/><circle cx="426.4" cy="122.7" r="3"/><circle cx="426.7" cy="109.5" r="3"/><circle cx="427.0" cy="101.7" r="3"/><circle cx="426.5" cy="109.0" r="3"/><circle cx="426.7" cy="115.1" r="3"/><circle cx="426.6" cy="105.7" r="3"/><circle cx="426.8" cy="95.4" r="3"/><circle cx="427.0" cy="140.7" r="3"/><circle cx="427.1" cy="92.6" r="3"/><circle cx="427.3" cy="115.2" r="3"/><circle cx="427.2" cy="103.5" r="3"/><circle cx="427.1" cy="106.5" r="3"/><circle cx="427.3" cy="115.1" r="3"/><circle cx="427.3" cy="123.3" r="3"/><circle cx="427.8" cy="109.1" r="3"/><circle cx="427.7" cy="94.0" r="3"/><circle cx="427.6" cy="113.6" r="3"/><circle cx="427.9" cy="100.0" r="3"/><circle cx="427.5" cy="108.7" r="3"/><circle cx="427.7" cy="133.4" r="3"/><circle cx="427.7" cy="119.8" r="3"/><circle cx="428.3" cy="103.0" r="3"/><circle cx="428.4" cy="90.8" r="3"/><circle cx="428.1" cy="101.0" r="3"/><circle cx="428.4" cy="116.5" r="3"/><circle cx="428.3" cy="107.8" r="3"/><circle cx="428.4" cy="92.8" r="3"/><circle cx="428.0" cy="129.4" r="3"/><circle cx="429.0" cy="107.9" r="3"/><circle cx="428.5" cy="105.6" r="3"/><circle cx="428.9" cy="104.7" r="3"/><circle cx="428.6" cy="90.7" r="3"/><circle cx="428.8" cy="93.8" r="3"/><circle cx="428.6" cy="110.3" r="3"/><circle cx="428.9" cy="130.7" r="3"/><circle cx="429.4" cy="102.2" r="3"/><circle cx="429.3" cy="111.8" r="3"/><circle cx="429.5" cy="115.5" r="3"/><circle cx="429.4" cy="100.7" r="3"/><circle cx="429.4" cy="113.7" r="3"/><circle cx="429.4" cy="102.2" r="3"/><circle cx="429.4" cy="128.5" r="3"/><circle cx="429.9" cy="94.4" r="3"/><circle cx="429.6" cy="114.7" r="3"/><circle cx="429.8" cy="111.4" r="3"/><circle cx="429.8" cy="107.3" r="3"/><circle cx="429.8" cy="105.0" r="3"/><circle cx="429.8" cy="102.5" r="3"/><circle cx="430.0" cy="132.5" r="3"/><circle cx="429.8" cy="134.4" r="3"/><circle cx="430.4" cy="105.7" r="3"/><circle cx="430.4" cy="96.6" r="3"/><circle cx="430.4" cy="104.2" r="3"/><circle cx="430.3" cy="100.5" r="3"/><circle cx="430.2" cy="103.4" r="3"/><circle cx="430.2" cy="101.9" r="3"/><circle cx="430.4" cy="126.8" r="3"/><circle cx="431.0" cy="92.2" r="3"/><circle cx="431.0" cy="105.8" r="3"/><circle cx="430.6" cy="93.5" r="3"/><circle cx="430.8" cy="113.6" r="3"/><circle cx="430.6" cy="89.9" r="3"/><circle cx="430.7" cy="119.9" r="3"/><circle cx="431.1" cy="107.0" r="3"/><circle cx="431.0" cy="108.3" r="3"/><circle cx="431.4" cy="99.7" r="3"/><circle cx="431.3" cy="115.0" r="3"/><circle cx="431.4" cy="96.6" r="3"/><circle cx="431.2" cy="117.9" r="3"/><circle cx="431.9" cy="106.0" r="3"/><circle cx="431.8" cy="98.9" r="3"/><circle cx="431.8" cy="103.8" r="3"/><circle cx="431.9" cy="96.1" r="3"/><circle cx="431.9" cy="99.7" r="3"/><circle cx="432.0" cy="123.6" r="3"/><circle cx="432.4" cy="92.7" r="3"/><circle cx="432.0" cy="110.7" r="3"/><circle cx="432.0" cy="100.8" r="3"/><circle cx="432.4" cy="100.5" r="3"/><circle cx="432.4" cy="116.1" r="3"/><circle cx="432.4" cy="138.5" r="3"/><circle cx="432.6" cy="99.8" r="3"/><circle cx="432.7" cy="107.2" r="3"/><circle cx="432.9" cy="106.1" r="3"/><circle cx="432.8" cy="113.0" r="3"/><circle cx="432.8" cy="97.8" r="3"/><circle cx="432.8" cy="132.6" r="3"/><circle cx="433.3" cy="92.2" r="3"/><circle cx="433.2" cy="109.6" r="3"/><circle cx="433.4" cy="103.7" r="3"/><circle cx="433.3" cy="90.3" r="3"/><circle cx="433.1" cy="96.9" r="3"/><circle cx="433.4" cy="100.8" r="3"/><circle cx="433.3" cy="121.0" r="3"/><circle cx="433.8" cy="94.6" r="3"/><circle cx="433.6" cy="108.4" r="3"/><circle cx="433.5" cy="107.2" r="3"/><circle cx="433.7" cy="113.6" r="3"/><circle cx="433.9" cy="113.0" r="3"/><circle cx="433.6" cy="135.8" r="3"/><circle cx="433.8" cy="134.7" r="3"/><circle cx="434.5" cy="116.2" r="3"/><circle cx="434.3" cy="109.8" r="3"/><circle cx="434.3" cy="104.0" r="3"/><circle cx="434.4" cy="98.2" r="3"/><circle cx="434.3" cy="108.9" r="3"/><circle cx="434.3" cy="128.1" r="3"/><circle cx="434.7" cy="96.8" r="3"/><circle cx="434.6" cy="91.7" r="3"/><circle cx="434.9" cy="92.6" r="3"/><circle cx="434.6" cy="112.9" r="3"/><circle cx="434.7" cy="100.9" r="3"/><circle cx="434.8" cy="127.2" r="3"/><circle cx="435.4" cy="94.3" r="3"/><circle cx="435.3" cy="115.0" r="3"/><circle cx="435.2" cy="109.0" r="3"/><circle cx="435.4" cy="93.6" r="3"/><circle cx="435.3" cy="105.9" r="3"/><circle cx="435.2" cy="94.9" r="3"/><circle cx="435.1" cy="127.6" r="3"/><circle cx="435.6" cy="89.7" r="3"/><circle cx="435.9" cy="94.9" r="3"/><circle cx="435.8" cy="99.4" r="3"/><circle cx="435.7" cy="106.6" r="3"/><circle cx="436.0" cy="98.0" r="3"/><circle cx="435.7" cy="123.8" r="3"/><circle cx="436.5" cy="96.1" r="3"/><circle cx="436.4" cy="103.9" r="3"/><circle cx="436.4" cy="106.1" r="3"/><circle cx="436.0" cy="107.9" r="3"/><circle cx="436.3" cy="98.2" r="3"/><circle cx="436.3" cy="124.6" r="3"/><circle cx="436.6" cy="98.3" r="3"/><circle cx="437.0" cy="112.0" r="3"/><circle cx="437.0" cy="100.3" r="3"/><circle cx="437.0" cy="115.1" r="3"/><circle cx="436.6" cy="93.3" r="3"/><circle cx="436.6" cy="115.7" r="3"/><circle cx="437.2" cy="94.7" r="3"/><circle cx="437.1" cy="94.7" r="3"/><circle cx="437.0" cy="112.6" r="3"/><circle cx="437.3" cy="111.7" r="3"/><circle cx="437.0" cy="111.2" r="3"/><circle cx="437.1" cy="138.6" r="3"/><circle cx="437.4" cy="137.4" r="3"/><circle cx="437.8" cy="95.2" r="3"/><circle cx="437.7" cy="97.2" r="3"/><circle cx="437.8" cy="112.3" r="3"/><circle cx="437.5" cy="106.4" r="3"/><circle cx="437.8" cy="110.1" r="3"/><circle cx="437.9" cy="125.1" r="3"/><circle cx="438.0" cy="96.8" r="3"/><circle cx="438.4" cy="112.1" r="3"/><circle cx="438.3" cy="103.7" r="3"/><circle cx="438.3" cy="102.5" r="3"/><circle cx="438.3" cy="112.4" r="3"/><circle cx="438.1" cy="130.1" r="3"/><circle cx="438.6" cy="103.2" r="3"/><circle cx="438.7" cy="108.8" r="3"/><circle cx="438.6" cy="113.3" r="3"/><circle cx="438.7" cy="114.1" r="3"/><circle cx="438.7" cy="110.5" r="3"/><circle cx="438.7" cy="133.7" r="3"/><circle cx="438.7" cy="121.4" r="3"/><circle cx="439.1" cy="109.5" r="3"/><circle cx="439.1" cy="91.9" r="3"/><circle cx="439.2" cy="95.8" r="3"/><circle cx="439.2" cy="106.9" r="3"/><circle cx="439.2" cy="107.6" r="3"/><circle cx="439.4" cy="134.5" r="3"/><circle cx="439.1" cy="135.8" r="3"/><circle cx="439.8" cy="114.0" r="3"/><circle cx="439.6" cy="92.9" r="3"/><circle cx="439.6" cy="114.3" r="3"/><circle cx="440.0" cy="93.5" r="3"/><circle cx="439.9" cy="110.4" r="3"/><circle cx="439.5" cy="118.7" r="3"/><circle cx="440.5" cy="95.7" r="3"/><circle cx="440.5" cy="98.3" r="3"/><circle cx="440.2" cy="94.9" r="3"/><circle cx="440.4" cy="94.0" r="3"/><circle cx="440.2" cy="110.0" r="3"/><circle cx="440.4" cy="115.9" r="3"/><circle cx="440.4" cy="124.9" r="3"/><circle cx="440.9" cy="111.1" r="3"/><circle cx="440.5" cy="108.2" r="3"/><circle cx="440.9" cy="97.6" r="3"/><circle cx="440.6" cy="107.3" r="3"/><circle cx="440.8" cy="91.1" r="3"/><circle cx="440.9" cy="114.6" r="3"/><circle cx="441.5" cy="106.5" r="3"/><circle cx="441.4" cy="103.4" r="3"/><circle cx="441.3" cy="92.4" r="3"/><circle cx="441.2" cy="99.3" r="3"/><circle cx="441.4" cy="98.8" r="3"/><circle cx="441.4" cy="123.3" r="3"/><circle cx="441.7" cy="109.3" r="3"/><circle cx="441.8" cy="113.3" r="3"/><circle cx="441.6" cy="99.5" r="3"/><circle cx="441.9" cy="100.8" r="3"/><circle cx="441.8" cy="108.7" r="3"/><circle cx="442.0" cy="116.0" r="3"/><circle cx="442.4" cy="93.7" r="3"/><circle cx="442.1" cy="106.6" r="3"/><circle cx="442.3" cy="108.9" r="3"/><circle cx="442.4" cy="93.7" r="3"/><circle cx="442.0" cy="89.9" r="3"/><circle cx="442.4" cy="128.8" r="3"/><circle cx="442.9" cy="94.3" r="3"/><circle cx="442.6" cy="99.3" r="3"/><circle cx="442.7" cy="96.6" r="3"/><circle cx="442.8" cy="112.5" r="3"/><circle cx="442.8" cy="101.2" r="3"/><circle cx="442.5" cy="122.0" r="3"/><circle cx="442.9" cy="115.7" r="3"/><circle cx="443.0" cy="103.3" r="3"/><circle cx="443.2" cy="106.7" r="3"/><circle cx="443.2" cy="102.3" r="3"/><circle cx="443.1" cy="92.7" r="3"/><circle cx="443.3" cy="89.9" r="3"/><circle cx="443.1" cy="131.7" r="3"/><circle cx="443.8" cy="107.2" r="3"/><circle cx="443.8" cy="101.3" r="3"/><circle cx="443.5" cy="104.1" r="3"/><circle cx="443.7" cy="113.4" r="3"/><circle cx="443.9" cy="108.3" r="3"/><circle cx="443.9" cy="120.8" r="3"/><circle cx="444.2" cy="91.2" r="3"/><circle cx="444.4" cy="92.1" r="3"/><circle cx="444.5" cy="112.5" r="3"/><circle cx="444.5" cy="110.1" r="3"/><circle cx="444.0" cy="110.4" r="3"/><circle cx="444.4" cy="127.7" r="3"/><circle cx="444.8" cy="104.8" r="3"/><circle cx="445.0" cy="104.0" r="3"/><circle cx="445.0" cy="109.5" r="3"/><circle cx="444.7" cy="101.2" r="3"/><circle cx="444.5" cy="94.4" r="3"/><circle cx="444.9" cy="116.0" r="3"/><circle cx="445.4" cy="111.1" r="3"/><circle cx="445.1" cy="101.3" r="3"/><circle cx="445.4" cy="98.4" r="3"/><circle cx="445.3" cy="90.5" r="3"/><circle cx="445.3" cy="121.4" r="3"/><circle cx="446.0" cy="112.2" r="3"/><circle cx="445.6" cy="103.8" r="3"/><circle cx="445.9" cy="102.1" r="3"/><circle cx="445.8" cy="105.0" r="3"/><circle cx="445.7" cy="114.9" r="3"/><circle cx="446.1" cy="99.8" r="3"/><circle cx="446.3" cy="92.9" r="3"/><circle cx="446.3" cy="96.3" r="3"/><circle cx="446.4" cy="91.9" r="3"/><circle cx="446.2" cy="102.0" r="3"/><circle cx="446.3" cy="119.4" r="3"/><circle cx="446.5" cy="119.0" r="3"/><circle cx="446.7" cy="108.6" r="3"/><circle cx="446.6" cy="109.6" r="3"/><circle cx="446.7" cy="91.9" r="3"/><circle cx="447.0" cy="112.0" r="3"/><circle cx="446.6" cy="122.9" r="3"/><circle cx="447.0" cy="110.3" r="3"/><circle cx="447.5" cy="101.8" r="3"/><circle cx="447.4" cy="97.3" r="3"/><circle cx="447.0" cy="111.4" r="3"/><circle cx="447.4" cy="98.2" r="3"/><circle cx="447.4" cy="127.7" r="3"/><circle cx="447.4" cy="136.8" r="3"/><circle cx="447.6" cy="94.2" r="3"/><circle cx="447.6" cy="103.8" r="3"/><circle cx="448.0" cy="93.0" r="3"/><circle cx="448.0" cy="101.6" r="3"/><circle cx="447.6" cy="96.0" r="3"/><circle cx="447.8" cy="126.3" r="3"/><circle cx="448.3" cy="98.3" r="3"/><circle cx="448.2" cy="92.7" r="3"/><circle cx="448.2" cy="107.5" r="3"/><circle cx="448.5" cy="105.8" r="3"/><circle cx="448.5" cy="125.3" r="3"/><circle cx="448.5" cy="111.1" r="3"/><circle cx="448.8" cy="111.4" r="3"/><circle cx="448.9" cy="104.5" r="3"/><circle cx="448.5" cy="96.3" r="3"/><circle cx="448.6" cy="101.2" r="3"/><circle cx="448.6" cy="117.1" r="3"/><circle cx="449.2" cy="108.9" r="3"/><circle cx="449.2" cy="100.7" r="3"/><circle cx="449.1" cy="110.3" r="3"/><circle cx="449.0" cy="96.1" r="3"/><circle cx="449.2" cy="108.0" r="3"/><circle cx="449.2" cy="128.4" r="3"/><circle cx="449.7" cy="110.8" r="3"/><circle cx="449.8" cy="99.5" r="3"/><circle cx="449.5" cy="97.8" r="3"/><circle cx="449.8" cy="106.7" r="3"/><circle cx="449.5" cy="132.3" r="3"/><circle cx="450.1" cy="102.6" r="3"/><circle cx="450.0" cy="91.6" r="3"/><circle cx="450.0" cy="110.2" r="3"/><circle cx="450.3" cy="102.3" r="3"/><circle cx="450.5" cy="105.1" r="3"/><circle cx="450.1" cy="133.9" r="3"/><circle cx="451.0" cy="108.2" r="3"/><circle cx="450.8" cy="99.8" r="3"/><circle cx="450.8" cy="92.8" r="3"/><circle cx="450.7" cy="106.7" r="3"/><circle cx="450.7" cy="107.0" r="3"/><circle cx="450.7" cy="133.4" r="3"/><circle cx="451.1" cy="97.2" r="3"/><circle cx="451.1" cy="105.2" r="3"/><circle cx="451.4" cy="102.1" r="3"/><circle cx="451.2" cy="92.1" r="3"/><circle cx="451.5" cy="93.5" r="3"/><circle cx="451.0" cy="121.1" r="3"/><circle cx="451.7" cy="95.2" r="3"/><circle cx="451.8" cy="103.4" r="3"/><circle cx="451.8" cy="107.3" r="3"/><circle cx="451.7" cy="105.3" r="3"/><circle cx="451.7" cy="111.2" r="3"/><circle cx="451.8" cy="116.0" r="3"/><circle cx="452.2" cy="101.1" r="3"/><circle cx="452.3" cy="96.4" r="3"/><circle cx="452.1" cy="92.7" r="3"/><circle cx="452.1" cy="97.5" r="3"/><circle cx="452.5" cy="118.9" r="3"/><circle cx="452.7" cy="95.1" r="3"/><circle cx="452.9" cy="105.6" r="3"/><circle cx="452.7" cy="90.6" r="3"/><circle cx="452.7" cy="100.5" r="3"/><circle cx="453.0" cy="111.7" r="3"/><circle cx="452.6" cy="125.4" r="3"/><circle cx="453.1" cy="94.4" r="3"/><circle cx="453.4" cy="106.1" r="3"/><circle cx="453.3" cy="91.4" r="3"/><circle cx="453.2" cy="91.2" r="3"/><circle cx="453.5" cy="127.7" r="3"/><circle cx="453.2" cy="124.7" r="3"/><circle cx="453.6" cy="99.1" r="3"/><circle cx="453.7" cy="100.4" r="3"/><circle cx="454.0" cy="106.6" r="3"/><circle cx="453.7" cy="109.3" r="3"/><circle cx="454.0" cy="129.5" r="3"/><circle cx="454.5" cy="110.6" r="3"/><circle cx="454.0" cy="99.6" r="3"/><circle cx="454.0" cy="98.9" r="3"/><circle cx="454.5" cy="97.9" r="3"/><circle cx="454.4" cy="118.3" r="3"/><circle cx="454.3" cy="125.8" r="3"/><circle cx="454.7" cy="107.3" r="3"/><circle cx="454.7" cy="108.2" r="3"/><circle cx="454.9" cy="101.5" r="3"/><circle cx="454.9" cy="98.4" r="3"/><circle cx="454.7" cy="105.5" r="3"/><circle cx="454.9" cy="133.0" r="3"/><circle cx="455.0" cy="104.0" r="3"/><circle cx="455.0" cy="110.7" r="3"/><circle cx="455.5" cy="103.3" r="3"/><circle cx="455.4" cy="106.4" r="3"/><circle cx="455.4" cy="93.9" r="3"/><circle cx="455.1" cy="126.8" r="3"/><circle cx="455.7" cy="101.6" r="3"/><circle cx="456.0" cy="104.4" r="3"/><circle cx="455.9" cy="95.2" r="3"/><circle cx="455.8" cy="103.8" r="3"/><circle cx="455.8" cy="97.7" r="3"/><circle cx="455.7" cy="128.3" r="3"/><circle cx="456.4" cy="91.7" r="3"/><circle cx="456.4" cy="104.8" r="3"/><circle cx="456.5" cy="99.5" r="3"/><circle cx="456.4" cy="106.5" r="3"/><circle cx="456.2" cy="119.2" r="3"/><circle cx="457.0" cy="92.8" r="3"/><circle cx="456.8" cy="103.0" r="3"/><circle cx="456.9" cy="107.2" r="3"/><circle cx="456.6" cy="101.8" r="3"/><circle cx="456.8" cy="109.0" r="3"/><circle cx="456.6" cy="124.3" r="3"/><circle cx="457.3" cy="95.4" r="3"/><circle cx="457.4" cy="97.0" r="3"/><circle cx="457.4" cy="106.8" r="3"/><circle cx="457.4" cy="92.3" r="3"/><circle cx="457.3" cy="103.4" r="3"/><circle cx="457.0" cy="131.2" r="3"/><circle cx="457.9" cy="110.1" r="3"/><circle cx="457.8" cy="91.9" r="3"/><circle cx="457.9" cy="103.3" r="3"/><circle cx="457.7" cy="108.8" r="3"/><circle cx="457.6" cy="112.3" r="3"/><circle cx="458.1" cy="95.2" r="3"/><circle cx="458.2" cy="104.6" r="3"/><circle cx="458.0" cy="94.7" r="3"/><circle cx="458.1" cy="106.3" r="3"/><circle cx="458.0" cy="124.6" r="3"/><circle cx="458.5" cy="100.0" r="3"/><circle cx="458.9" cy="98.8" r="3"/><circle cx="458.8" cy="106.9" r="3"/><circle cx="458.8" cy="102.0" r="3"/><circle cx="458.9" cy="118.3" r="3"/><circle cx="459.2" cy="111.1" r="3"/><circle cx="459.1" cy="99.8" r="3"/><circle cx="459.1" cy="107.6" r="3"/><circle cx="459.3" cy="97.5" r="3"/><circle cx="459.2" cy="94.1" r="3"/><circle cx="459.3" cy="123.8" r="3"/><circle cx="459.9" cy="98.4" r="3"/><circle cx="459.7" cy="107.6" r="3"/><circle cx="459.7" cy="95.8" r="3"/><circle cx="459.7" cy="93.6" r="3"/><circle cx="459.7" cy="108.7" r="3"/><circle cx="459.8" cy="112.2" r="3"/><circle cx="460.1" cy="106.6" r="3"/><circle cx="460.0" cy="103.7" r="3"/><circle cx="460.2" cy="106.2" r="3"/><circle cx="460.3" cy="93.4" r="3"/><circle cx="460.0" cy="113.0" r="3"/><circle cx="461.0" cy="100.0" r="3"/><circle cx="460.8" cy="98.2" r="3"/><circle cx="460.9" cy="100.8" r="3"/><circle cx="460.6" cy="108.1" r="3"/><circle cx="460.8" cy="121.0" r="3"/><circle cx="461.4" cy="95.0" r="3"/><circle cx="461.4" cy="106.5" r="3"/><circle cx="461.0" cy="109.9" r="3"/><circle cx="461.3" cy="95.1" r="3"/><circle cx="461.1" cy="111.8" r="3"/><circle cx="461.5" cy="101.0" r="3"/><circle cx="461.5" cy="96.9" r="3"/><circle cx="461.6" cy="88.3" r="3"/><circle cx="461.7" cy="95.2" r="3"/><circle cx="461.9" cy="125.2" r="3"/><circle cx="462.3" cy="93.6" r="3"/><circle cx="462.4" cy="101.4" r="3"/><circle cx="462.5" cy="106.1" r="3"/><circle cx="462.2" cy="108.6" r="3"/><circle cx="462.2" cy="108.6" r="3"/><circle cx="462.1" cy="111.8" r="3"/><circle cx="463.0" cy="98.8" r="3"/><circle cx="462.6" cy="100.4" r="3"/><circle cx="463.0" cy="97.6" r="3"/><circle cx="462.6" cy="111.0" r="3"/><circle cx="462.5" cy="128.9" r="3"/><circle cx="463.2" cy="108.2" r="3"/><circle cx="463.5" cy="102.8" r="3"/><circle cx="463.3" cy="99.3" r="3"/><circle cx="463.0" cy="104.7" r="3"/><circle cx="463.1" cy="125.4" r="3"/><circle cx="463.9" cy="94.0" r="3"/><circle cx="463.9" cy="111.3" r="3"/><circle cx="463.7" cy="95.5" r="3"/><circle cx="463.9" cy="108.7" r="3"/><circle cx="463.8" cy="92.4" r="3"/><circle cx="463.9" cy="122.6" r="3"/><circle cx="464.5" cy="94.4" r="3"/><circle cx="464.1" cy="93.8" r="3"/><circle cx="464.5" cy="97.9" r="3"/><circle cx="464.3" cy="101.4" r="3"/><circle cx="465.0" cy="103.0" r="3"/><circle cx="464.8" cy="106.5" r="3"/><circle cx="464.6" cy="91.5" r="3"/><circle cx="464.7" cy="98.7" r="3"/><circle cx="464.9" cy="126.8" r="3"/><circle cx="465.3" cy="109.8" r="3"/><circle cx="465.5" cy="89.1" r="3"/><circle cx="465.1" cy="89.8" r="3"/><circle cx="465.1" cy="105.2" r="3"/><circle cx="465.3" cy="130.4" r="3"/><circle cx="466.0" cy="107.9" r="3"/><circle cx="465.7" cy="93.6" r="3"/><circle cx="465.6" cy="99.0" r="3"/><circle cx="465.7" cy="94.7" r="3"/><circle cx="465.6" cy="123.8" r="3"/><circle cx="466.1" cy="104.4" r="3"/><circle cx="466.3" cy="102.5" r="3"/><circle cx="466.4" cy="101.2" r="3"/><circle cx="466.2" cy="96.7" r="3"/><circle cx="466.2" cy="93.0" r="3"/><circle cx="466.0" cy="117.5" r="3"/><circle cx="466.7" cy="97.6" r="3"/><circle cx="466.5" cy="90.1" r="3"/><circle cx="466.6" cy="106.5" r="3"/><circle cx="466.7" cy="93.5" r="3"/><circle cx="466.8" cy="124.1" r="3"/><circle cx="467.1" cy="92.9" r="3"/><circle cx="467.4" cy="94.5" r="3"/><circle cx="467.2" cy="85.8" r="3"/><circle cx="467.1" cy="103.4" r="3"/><circle cx="467.4" cy="116.2" r="3"/><circle cx="468.0" cy="100.8" r="3"/><circle cx="467.8" cy="98.7" r="3"/><circle cx="467.8" cy="92.6" r="3"/><circle cx="467.9" cy="102.1" r="3"/><circle cx="467.7" cy="120.5" r="3"/><circle cx="468.4" cy="95.0" r="3"/><circle cx="468.4" cy="102.8" r="3"/><circle cx="468.3" cy="96.7" r="3"/><circle cx="468.5" cy="97.1" r="3"/><circle cx="468.3" cy="128.2" r="3"/><circle cx="468.7" cy="99.1" r="3"/><circle cx="468.7" cy="107.3" r="3"/><circle cx="468.8" cy="96.2" r="3"/><circle cx="468.6" cy="95.3" r="3"/><circle cx="468.8" cy="119.6" r="3"/><circle cx="469.0" cy="104.9" r="3"/><circle cx="469.1" cy="92.5" r="3"/><circle cx="469.3" cy="94.7" r="3"/><circle cx="469.4" cy="104.7" r="3"/><circle cx="469.5" cy="128.0" r="3"/><circle cx="469.7" cy="97.3" r="3"/><circle cx="469.5" cy="107.9" r="3"/><circle cx="469.8" cy="104.7" r="3"/><circle cx="469.7" cy="99.3" r="3"/><circle cx="469.9" cy="117.0" r="3"/><circle cx="470.5" cy="89.9" r="3"/><circle cx="470.2" cy="107.3" r="3"/><circle cx="470.2" cy="92.4" r="3"/><circle cx="470.0" cy="93.2" r="3"/><circle cx="470.4" cy="108.5" r="3"/><circle cx="470.2" cy="116.2" r="3"/><circle cx="470.6" cy="101.5" r="3"/><circle cx="470.8" cy="106.0" r="3"/><circle cx="470.6" cy="90.7" r="3"/><circle cx="470.7" cy="102.5" r="3"/><circle cx="470.5" cy="125.4" r="3"/><circle cx="471.2" cy="102.2" r="3"/><circle cx="471.2" cy="108.4" r="3"/><circle cx="471.1" cy="90.1" r="3"/><circle cx="471.4" cy="103.2" r="3"/><circle cx="471.3" cy="98.1" r="3"/><circle cx="471.1" cy="126.1" r="3"/><circle cx="471.9" cy="100.7" r="3"/><circle cx="471.7" cy="103.9" r="3"/><circle cx="471.6" cy="97.6" r="3"/><circle cx="471.9" cy="105.4" r="3"/><circle cx="472.4" cy="96.9" r="3"/><circle cx="472.0" cy="100.3" r="3"/><circle cx="472.2" cy="105.8" r="3"/><circle cx="472.3" cy="106.9" r="3"/><circle cx="472.2" cy="92.2" r="3"/><circle cx="472.4" cy="110.8" r="3"/><circle cx="472.7" cy="99.1" r="3"/><circle cx="472.8" cy="95.3" r="3"/><circle cx="473.0" cy="93.6" r="3"/><circle cx="472.6" cy="96.2" r="3"/><circle cx="473.0" cy="117.2" r="3"/><circle cx="473.2" cy="96.8" r="3"/><circle cx="473.4" cy="108.3" r="3"/><circle cx="473.2" cy="93.4" r="3"/><circle cx="473.2" cy="100.0" r="3"/><circle cx="473.3" cy="110.6" r="3"/><circle cx="473.6" cy="107.6" r="3"/><circle cx="473.8" cy="98.4" r="3"/><circle cx="474.0" cy="98.4" r="3"/><circle cx="473.7" cy="110.2" r="3"/><circle cx="473.9" cy="114.8" r="3"/><circle cx="474.1" cy="101.9" r="3"/><circle cx="474.5" cy="98.8" r="3"/><circle cx="474.3" cy="98.3" r="3"/><circle cx="474.4" cy="104.7" r="3"/><circle cx="474.1" cy="119.1" r="3"/><circle cx="474.9" cy="97.6" r="3"/><circle cx="475.0" cy="97.9" r="3"/><circle cx="474.9" cy="104.3" r="3"/><circle cx="475.0" cy="99.1" r="3"/><circle cx="475.4" cy="93.0" r="3"/><circle cx="475.2" cy="102.8" r="3"/><circle cx="475.2" cy="92.5" r="3"/><circle cx="475.2" cy="103.0" r="3"/><circle cx="475.2" cy="124.4" r="3"/><circle cx="475.7" cy="100.5" r="3"/><circle cx="475.9" cy="92.1" r="3"/><circle cx="475.7" cy="92.1" r="3"/><circle cx="475.6" cy="102.4" r="3"/><circle cx="476.0" cy="119.1" r="3"/><circle cx="476.1" cy="97.3" r="3"/><circle cx="476.4" cy="91.6" r="3"/><circle cx="476.0" cy="106.3" r="3"/><circle cx="476.3" cy="107.3" r="3"/><circle cx="476.4" cy="115.3" r="3"/><circle cx="476.6" cy="100.5" r="3"/><circle cx="476.8" cy="106.9" r="3"/><circle cx="476.7" cy="90.7" r="3"/><circle cx="476.8" cy="94.5" r="3"/><circle cx="476.7" cy="117.0" r="3"/><circle cx="477.3" cy="102.8" r="3"/><circle cx="477.5" cy="94.1" r="3"/><circle cx="477.1" cy="107.5" r="3"/><circle cx="477.4" cy="98.8" r="3"/><circle cx="477.5" cy="114.8" r="3"/><circle cx="477.9" cy="94.8" r="3"/><circle cx="477.6" cy="107.7" r="3"/><circle cx="477.6" cy="102.5" r="3"/><circle cx="477.9" cy="95.7" r="3"/><circle cx="477.6" cy="119.4" r="3"/><circle cx="478.3" cy="104.7" r="3"/><circle cx="478.3" cy="106.5" r="3"/><circle cx="478.1" cy="101.0" r="3"/><circle cx="478.3" cy="91.3" r="3"/><circle cx="478.5" cy="115.3" r="3"/><circle cx="478.9" cy="105.4" r="3"/><circle cx="478.6" cy="99.8" r="3"/><circle cx="478.7" cy="100.7" r="3"/><circle cx="479.0" cy="96.5" r="3"/><circle cx="478.9" cy="112.6" r="3"/><circle cx="479.2" cy="99.3" r="3"/><circle cx="479.5" cy="106.4" r="3"/><circle cx="479.0" cy="94.9" r="3"/><circle cx="479.3" cy="105.0" r="3"/><circle cx="479.5" cy="99.1" r="3"/><circle cx="479.7" cy="105.1" r="3"/><circle cx="479.9" cy="101.5" r="3"/><circle cx="479.7" cy="94.1" r="3"/><circle cx="479.7" cy="121.1" r="3"/><circle cx="480.5" cy="99.9" r="3"/><circle cx="480.3" cy="101.5" r="3"/><circle cx="480.2" cy="103.0" r="3"/><circle cx="480.7" cy="104.1" r="3"/><circle cx="480.7" cy="98.4" r="3"/><circle cx="480.9" cy="89.3" r="3"/><circle cx="480.9" cy="100.4" r="3"/><circle cx="480.9" cy="110.3" r="3"/><circle cx="481.4" cy="108.7" r="3"/><circle cx="481.2" cy="98.0" r="3"/><circle cx="481.4" cy="100.1" r="3"/><circle cx="481.8" cy="100.6" r="3"/><circle cx="482.0" cy="108.1" r="3"/><circle cx="481.6" cy="101.7" r="3"/><circle cx="481.6" cy="108.0" r="3"/><circle cx="482.4" cy="102.3" r="3"/><circle cx="482.1" cy="90.9" r="3"/><circle cx="482.4" cy="101.6" r="3"/><circle cx="482.1" cy="93.4" r="3"/><circle cx="482.4" cy="113.6" r="3"/><circle cx="482.8" cy="94.6" r="3"/><circle cx="482.8" cy="96.2" r="3"/><circle cx="482.8" cy="108.6" r="3"/><circle cx="482.6" cy="103.5" r="3"/><circle cx="483.3" cy="105.0" r="3"/><circle cx="483.5" cy="108.5" r="3"/><circle cx="483.5" cy="107.8" r="3"/><circle cx="483.1" cy="95.4" r="3"/><circle cx="483.1" cy="110.2" r="3"/><circle cx="483.9" cy="99.0" r="3"/><circle cx="483.6" cy="100.2" r="3"/><circle cx="483.9" cy="90.1" r="3"/><circle cx="484.0" cy="97.1" r="3"/><circle cx="483.6" cy="115.3" r="3"/><circle cx="484.5" cy="105.9" r="3"/><circle cx="484.1" cy="93.0" r="3"/><circle cx="484.2" cy="101.3" r="3"/><circle cx="484.9" cy="94.5" r="3"/><circle cx="484.9" cy="105.6" r="3"/><circle cx="484.6" cy="99.8" r="3"/><circle cx="484.7" cy="103.8" r="3"/><circle cx="484.6" cy="112.6" r="3"/><circle cx="485.4" cy="94.7" r="3"/><circle cx="485.1" cy="96.0" r="3"/><circle cx="485.0" cy="105.1" r="3"/><circle cx="485.5" cy="99.4" r="3"/><circle cx="485.6" cy="106.6" r="3"/><circle cx="486.0" cy="106.0" r="3"/><circle cx="485.9" cy="113.1" r="3"/><circle cx="486.1" cy="89.7" r="3"/><circle cx="486.1" cy="102.7" r="3"/><circle cx="486.2" cy="106.6" r="3"/><circle cx="486.1" cy="101.6" r="3"/><circle cx="486.3" cy="117.1" r="3"/><circle cx="486.7" cy="107.3" r="3"/><circle cx="486.7" cy="95.8" r="3"/><circle cx="486.8" cy="97.2" r="3"/><circle cx="486.6" cy="92.9" r="3"/><circle cx="486.8" cy="109.7" r="3"/><circle cx="487.4" cy="102.2" r="3"/><circle cx="487.5" cy="106.5" r="3"/><circle cx="487.3" cy="105.8" r="3"/><circle cx="487.2" cy="94.9" r="3"/><circle cx="487.7" cy="107.7" r="3"/><circle cx="487.7" cy="91.7" r="3"/><circle cx="487.6" cy="104.9" r="3"/><circle cx="487.6" cy="116.8" r="3"/><circle cx="488.4" cy="100.7" r="3"/><circle cx="488.0" cy="107.8" r="3"/><circle cx="488.3" cy="101.9" r="3"/><circle cx="488.1" cy="107.3" r="3"/><circle cx="488.2" cy="114.0" r="3"/><circle cx="488.8" cy="96.9" r="3"/><circle cx="489.0" cy="96.9" r="3"/><circle cx="488.6" cy="97.1" r="3"/><circle cx="488.7" cy="103.5" r="3"/><circle cx="488.7" cy="114.7" r="3"/><circle cx="489.4" cy="88.8" r="3"/><circle cx="489.2" cy="95.9" r="3"/><circle cx="489.5" cy="97.3" r="3"/><circle cx="489.0" cy="118.9" r="3"/><circle cx="489.7" cy="107.0" r="3"/><circle cx="489.6" cy="106.8" r="3"/><circle cx="489.6" cy="107.1" r="3"/><circle cx="489.8" cy="116.8" r="3"/><circle cx="490.1" cy="95.0" r="3"/><circle cx="490.4" cy="96.5" r="3"/><circle cx="490.2" cy="101.5" r="3"/><circle cx="490.1" cy="91.3" r="3"/><circle cx="490.7" cy="107.3" r="3"/><circle cx="490.9" cy="106.9" r="3"/><circle cx="490.6" cy="96.9" r="3"/><circle cx="490.6" cy="110.4" r="3"/><circle cx="491.2" cy="106.4" r="3"/><circle cx="491.0" cy="89.9" r="3"/><circle cx="491.2" cy="92.8" r="3"/><circle cx="491.1" cy="101.0" r="3"/><circle cx="491.7" cy="107.9" r="3"/><circle cx="491.9" cy="99.0" r="3"/><circle cx="491.7" cy="96.0" r="3"/><circle cx="492.2" cy="92.3" r="3"/><circle cx="492.3" cy="94.0" r="3"/><circle cx="492.2" cy="105.7" r="3"/><circle cx="492.5" cy="107.5" r="3"/><circle cx="492.8" cy="103.2" r="3"/><circle cx="492.7" cy="103.8" r="3"/><circle cx="492.8" cy="94.1" r="3"/><circle cx="492.6" cy="110.4" r="3"/><circle cx="493.3" cy="100.8" r="3"/><circle cx="493.4" cy="101.1" r="3"/><circle cx="493.2" cy="100.6" r="3"/><circle cx="493.0" cy="95.9" r="3"/><circle cx="493.2" cy="108.4" r="3"/><circle cx="493.8" cy="99.6" r="3"/><circle cx="493.8" cy="105.0" r="3"/><circle cx="493.6" cy="101.2" r="3"/><circle cx="493.6" cy="98.4" r="3"/><circle cx="493.6" cy="118.7" r="3"/><circle cx="494.3" cy="90.8" r="3"/><circle cx="494.2" cy="107.8" r="3"/><circle cx="494.0" cy="95.9" r="3"/><circle cx="494.4" cy="113.9" r="3"/><circle cx="494.7" cy="101.8" r="3"/><circle cx="494.5" cy="91.5" r="3"/><circle cx="494.5" cy="102.2" r="3"/><circle cx="494.5" cy="105.4" r="3"/><circle cx="494.8" cy="111.5" r="3"/><circle cx="495.3" cy="97.9" r="3"/><circle cx="495.3" cy="107.1" r="3"/><circle cx="495.2" cy="103.0" r="3"/><circle cx="495.7" cy="97.4" r="3"/><circle cx="495.8" cy="105.3" r="3"/><circle cx="495.7" cy="95.4" r="3"/><circle cx="495.6" cy="111.6" r="3"/><circle cx="496.4" cy="102.9" r="3"/><circle cx="496.0" cy="96.5" r="3"/><circle cx="496.2" cy="103.1" r="3"/><circle cx="496.9" cy="88.2" r="3"/><circle cx="496.6" cy="96.7" r="3"/><circle cx="496.7" cy="104.5" r="3"/><circle cx="496.9" cy="97.0" r="3"/><circle cx="497.1" cy="93.1" r="3"/><circle cx="497.0" cy="103.6" r="3"/><circle cx="497.2" cy="98.8" r="3"/><circle cx="497.3" cy="116.8" r="3"/><circle cx="497.9" cy="107.1" r="3"/><circle cx="497.8" cy="106.2" r="3"/><circle cx="497.7" cy="92.6" r="3"/><circle cx="497.6" cy="99.1" r="3"/><circle cx="497.8" cy="116.0" r="3"/><circle cx="498.3" cy="95.0" r="3"/><circle cx="498.4" cy="106.6" r="3"/><circle cx="498.3" cy="98.6" r="3"/><circle cx="498.5" cy="110.5" r="3"/><circle cx="498.8" cy="100.3" r="3"/><circle cx="499.0" cy="99.4" r="3"/><circle cx="498.7" cy="97.1" r="3"/><circle cx="499.5" cy="94.5" r="3"/><circle cx="499.3" cy="105.3" r="3"/><circle cx="499.2" cy="103.3" r="3"/><circle cx="499.1" cy="94.8" r="3"/><circle cx="499.3" cy="110.4" r="3"/><circle cx="500.0" cy="104.7" r="3"/><circle cx="499.7" cy="95.8" r="3"/><circle cx="499.6" cy="105.1" r="3"/><circle cx="499.5" cy="101.8" r="3"/><circle cx="499.8" cy="114.1" r="3"/><circle cx="500.0" cy="98.1" r="3"/><circle cx="500.2" cy="104.6" r="3"/><circle cx="500.3" cy="105.4" r="3"/><circle cx="500.9" cy="99.8" r="3"/><circle cx="500.8" cy="94.5" r="3"/><circle cx="500.7" cy="104.0" r="3"/><circle cx="500.9" cy="97.1" r="3"/><circle cx="501.3" cy="105.0" r="3"/><circle cx="501.5" cy="102.3" r="3"/><circle cx="501.3" cy="100.0" r="3"/><circle cx="502.0" cy="105.3" r="3"/><circle cx="501.7" cy="100.6" r="3"/><circle cx="502.0" cy="102.8" r="3"/><circle cx="501.6" cy="98.8" r="3"/><circle cx="501.7" cy="114.1" r="3"/><circle cx="502.1" cy="106.5" r="3"/><circle cx="502.3" cy="104.4" r="3"/><circle cx="502.3" cy="96.9" r="3"/><circle cx="502.3" cy="107.5" r="3"/><circle cx="502.3" cy="115.3" r="3"/><circle cx="502.9" cy="96.1" r="3"/><circle cx="502.6" cy="105.1" r="3"/><circle cx="502.9" cy="96.8" r="3"/><circle cx="503.3" cy="96.5" r="3"/><circle cx="503.2" cy="94.9" r="3"/><circle cx="503.2" cy="107.8" r="3"/><circle cx="503.6" cy="99.2" r="3"/><circle cx="503.8" cy="100.3" r="3"/><circle cx="503.6" cy="100.4" r="3"/><circle cx="504.2" cy="99.4" r="3"/><circle cx="504.4" cy="92.9" r="3"/><circle cx="504.5" cy="107.6" r="3"/><circle cx="504.3" cy="111.4" r="3"/><circle cx="504.7" cy="100.6" r="3"/><circle cx="504.7" cy="95.3" r="3"/><circle cx="504.8" cy="96.0" r="3"/><circle cx="505.5" cy="99.7" r="3"/><circle cx="505.3" cy="93.9" r="3"/><circle cx="505.2" cy="99.2" r="3"/><circle cx="505.4" cy="109.1" r="3"/><circle cx="505.6" cy="100.3" r="3"/><circle cx="506.0" cy="101.3" r="3"/><circle cx="505.6" cy="106.5" r="3"/><circle cx="505.6" cy="113.6" r="3"/><circle cx="506.0" cy="94.7" r="3"/><circle cx="506.2" cy="101.1" r="3"/><circle cx="506.1" cy="104.9" r="3"/><circle cx="506.7" cy="97.1" r="3"/><circle cx="506.9" cy="96.6" r="3"/><circle cx="506.9" cy="101.8" r="3"/><circle cx="507.2" cy="105.7" r="3"/><circle cx="507.0" cy="102.9" r="3"/><circle cx="507.3" cy="103.7" r="3"/><circle cx="508.0" cy="98.9" r="3"/><circle cx="507.9" cy="91.5" r="3"/><circle cx="507.7" cy="101.0" r="3"/><circle cx="507.9" cy="111.8" r="3"/><circle cx="508.0" cy="101.4" r="3"/><circle cx="508.1" cy="107.1" r="3"/><circle cx="508.4" cy="100.4" r="3"/><circle cx="508.8" cy="92.6" r="3"/><circle cx="508.9" cy="94.9" r="3"/><circle cx="508.5" cy="95.1" r="3"/><circle cx="508.8" cy="109.2" r="3"/><circle cx="509.3" cy="98.9" r="3"/><circle cx="509.0" cy="102.8" r="3"/><circle cx="509.3" cy="97.2" r="3"/><circle cx="509.1" cy="110.2" r="3"/><circle cx="509.7" cy="107.5" r="3"/><circle cx="509.6" cy="99.2" r="3"/><circle cx="509.5" cy="107.5" r="3"/><circle cx="510.2" cy="104.1" r="3"/><circle cx="510.0" cy="100.5" r="3"/><circle cx="510.0" cy="106.6" r="3"/><circle cx="511.0" cy="97.4" r="3"/><circle cx="510.8" cy="102.4" r="3"/><circle cx="510.9" cy="101.3" r="3"/><circle cx="511.3" cy="100.1" r="3"/><circle cx="511.4" cy="94.0" r="3"/><circle cx="511.1" cy="102.1" r="3"/><circle cx="511.3" cy="113.6" r="3"/><circle cx="511.5" cy="106.1" r="3"/><circle cx="511.8" cy="97.7" r="3"/><circle cx="511.6" cy="106.7" r="3"/><circle cx="511.9" cy="113.2" r="3"/><circle cx="512.4" cy="96.8" r="3"/><circle cx="512.0" cy="105.2" r="3"/><circle cx="512.0" cy="105.9" r="3"/><circle cx="512.4" cy="113.1" r="3"/><circle cx="512.8" cy="98.1" r="3"/><circle cx="512.9" cy="96.8" r="3"/><circle cx="512.7" cy="98.1" r="3"/><circle cx="513.0" cy="107.0" r="3"/><circle cx="513.5" cy="101.1" r="3"/><circle cx="513.3" cy="95.2" r="3"/><circle cx="513.1" cy="108.4" r="3"/><circle cx="513.9" cy="99.7" r="3"/><circle cx="514.0" cy="96.1" r="3"/><circle cx="514.3" cy="101.5" r="3"/><circle cx="514.4" cy="101.2" r="3"/><circle cx="514.3" cy="107.3" r="3"/><circle cx="514.7" cy="106.1" r="3"/><circle cx="514.6" cy="105.2" r="3"/><circle cx="515.4" cy="95.6" r="3"/><circle cx="515.2" cy="98.2" r="3"/><circle cx="515.4" cy="105.5" r="3"/><circle cx="515.5" cy="107.3" r="3"/><circle cx="515.6" cy="97.2" r="3"/><circle cx="515.5" cy="102.8" r="3"/><circle cx="516.2" cy="101.7" r="3"/><circle cx="516.2" cy="96.8" r="3"/><circle cx="516.3" cy="96.5" r="3"/><circle cx="516.6" cy="96.5" r="3"/><circle cx="516.6" cy="94.3" r="3"/><circle cx="516.6" cy="106.1" r="3"/><circle cx="517.4" cy="99.5" r="3"/><circle cx="517.4" cy="96.5" r="3"/><circle cx="517.1" cy="101.2" r="3"/><circle cx="517.7" cy="96.3" r="3"/><circle cx="517.8" cy="102.0" r="3"/><circle cx="518.4" cy="104.2" r="3"/><circle cx="518.4" cy="98.8" r="3"/><circle cx="518.8" cy="97.7" r="3"/><circle cx="518.6" cy="101.4" r="3"/><circle cx="519.4" cy="96.6" r="3"/><circle cx="519.3" cy="106.0" r="3"/><circle cx="519.5" cy="96.4" r="3"/><circle cx="519.7" cy="105.3" r="3"/><circle cx="519.9" cy="108.6" r="3"/><circle cx="520.4" cy="98.3" r="3"/><circle cx="520.2" cy="105.7" r="3"/><circle cx="520.1" cy="100.6" r="3"/><circle cx="520.6" cy="96.5" r="3"/><circle cx="520.7" cy="105.4" r="3"/><circle cx="520.9" cy="105.9" r="3"/><circle cx="521.5" cy="102.6" r="3"/><circle cx="521.4" cy="105.8" r="3"/><circle cx="522.0" cy="102.3" r="3"/><circle cx="521.8" cy="105.2" r="3"/><circle cx="521.8" cy="99.4" r="3"/><circle cx="522.3" cy="102.9" r="3"/><circle cx="522.5" cy="101.7" r="3"/><circle cx="522.6" cy="105.1" r="3"/><circle cx="522.7" cy="98.4" r="3"/><circle cx="522.8" cy="97.6" r="3"/><circle cx="523.5" cy="99.0" r="3"/><circle cx="523.0" cy="103.3" r="3"/><circle cx="523.5" cy="102.9" r="3"/><circle cx="523.9" cy="98.5" r="3"/><circle cx="523.5" cy="100.0" r="3"/><circle cx="524.1" cy="96.3" r="3"/><circle cx="524.5" cy="99.2" r="3"/><circle cx="524.4" cy="104.6" r="3"/><circle cx="524.8" cy="105.8" r="3"/><circle cx="524.6" cy="97.4" r="3"/><circle cx="524.6" cy="99.7" r="3"/><circle cx="525.0" cy="99.7" r="3"/><circle cx="525.4" cy="104.6" r="3"/><circle cx="525.6" cy="93.6" r="3"/><circle cx="525.5" cy="102.3" r="3"/><circle cx="526.1" cy="96.4" r="3"/><circle cx="526.4" cy="98.0" r="3"/><circle cx="526.6" cy="105.4" r="3"/><circle cx="527.0" cy="99.8" r="3"/><circle cx="527.1" cy="103.3" r="3"/><circle cx="527.1" cy="104.2" r="3"/><circle cx="527.9" cy="102.9" r="3"/><circle cx="527.5" cy="101.3" r="3"/><circle cx="528.1" cy="104.1" r="3"/><circle cx="528.3" cy="99.0" r="3"/><circle cx="528.8" cy="109.1" r="3"/><circle cx="528.9" cy="103.9" r="3"/><circle cx="529.1" cy="110.5" r="3"/><circle cx="529.3" cy="107.8" r="3"/><circle cx="529.6" cy="104.4" r="3"/><circle cx="529.6" cy="97.7" r="3"/><circle cx="530.4" cy="96.2" r="3"/><circle cx="530.0" cy="97.9" r="3"/><circle cx="530.8" cy="103.3" r="3"/><circle cx="531.0" cy="109.4" r="3"/><circle cx="531.2" cy="99.6" r="3"/><circle cx="531.2" cy="98.4" r="3"/><circle cx="531.8" cy="104.3" r="3"/><circle cx="532.0" cy="104.0" r="3"/><circle cx="532.3" cy="104.5" r="3"/><circle cx="532.2" cy="105.0" r="3"/><circle cx="533.0" cy="98.3" r="3"/><circle cx="532.8" cy="101.3" r="3"/><circle cx="533.4" cy="101.0" r="3"/><circle cx="533.2" cy="101.6" r="3"/><circle cx="533.7" cy="101.6" r="3"/><circle cx="533.8" cy="100.5" r="3"/><circle cx="534.4" cy="104.0" r="3"/><circle cx="534.3" cy="109.0" r="3"/><circle cx="534.6" cy="102.9" r="3"/><circle cx="535.4" cy="97.8" r="3"/><circle cx="535.1" cy="105.3" r="3"/><circle cx="536.0" cy="98.7" r="3"/><circle cx="536.0" cy="98.4" r="3"/><circle cx="536.1" cy="100.1" r="3"/><circle cx="536.4" cy="102.5" r="3"/><circle cx="536.7" cy="101.2" r="3"/><circle cx="536.6" cy="108.9" r="3"/><circle cx="537.3" cy="103.0" r="3"/><circle cx="537.2" cy="102.2" r="3"/><circle cx="537.9" cy="101.3" r="3"/><circle cx="537.6" cy="100.2" r="3"/><circle cx="538.4" cy="101.3" r="3"/><circle cx="538.4" cy="101.5" r="3"/><circle cx="538.9" cy="103.1" r="3"/><circle cx="538.9" cy="105.4" r="3"/><circle cx="539.4" cy="104.9" r="3"/><circle cx="539.6" cy="105.3" r="3"/><circle cx="540.2" cy="101.5" r="3"/><circle cx="540.0" cy="97.2" r="3"/><circle cx="540.9" cy="105.3" r="3"/><circle cx="540.5" cy="96.5" r="3"/><circle cx="541.4" cy="99.5" r="3"/><circle cx="541.3" cy="99.5" r="3"/><circle cx="541.9" cy="99.1" r="3"/><circle cx="541.9" cy="101.0" r="3"/><circle cx="542.0" cy="99.7" r="3"/><circle cx="542.0" cy="101.8" r="3"/><circle cx="542.8" cy="105.5" r="3"/><circle cx="542.5" cy="101.4" r="3"/><circle cx="543.1" cy="100.8" r="3"/><circle cx="543.5" cy="100.5" r="3"/><circle cx="544.0" cy="103.7" r="3"/><circle cx="543.6" cy="99.8" r="3"/><circle cx="544.1" cy="103.3" r="3"/><circle cx="544.0" cy="100.0" r="3"/><circle cx="544.7" cy="99.2" r="3"/><circle cx="544.7" cy="100.9" r="3"/><circle cx="545.1" cy="98.3" r="3"/><circle cx="545.3" cy="107.0" r="3"/><circle cx="545.9" cy="102.3" r="3"/><circle cx="545.5" cy="100.4" r="3"/><circle cx="546.1" cy="99.6" r="3"/><circle cx="546.6" cy="104.6" r="3"/><circle cx="547.5" cy="103.0" r="3"/><circle cx="547.4" cy="105.3" r="3"/><circle cx="547.5" cy="99.5" r="3"/><circle cx="548.1" cy="105.2" r="3"/><circle cx="549.0" cy="106.9" r="3"/><circle cx="549.4" cy="104.3" r="3"/><circle cx="549.8" cy="105.0" r="3"/><circle cx="550.3" cy="104.9" r="3"/><circle cx="550.8" cy="103.6" r="3"/><circle cx="551.5" cy="104.7" r="3"/><circle cx="551.6" cy="104.5" r="3"/><circle cx="552.0" cy="103.7" r="3"/><circle cx="552.7" cy="104.0" r="3"/><circle cx="552.7" cy="103.1" r="3"/><circle cx="553.2" cy="104.2" r="3"/><circle cx="553.8" cy="101.3" r="3"/><circle cx="555.0" cy="103.7" r="3"/><circle cx="555.1" cy="100.7" r="3"/><circle cx="555.8" cy="106.1" r="3"/><circle cx="556.0" cy="103.8" r="3"/><circle cx="556.5" cy="100.5" r="3"/><circle cx="557.6" cy="103.3" r="3"/><circle cx="559.3" cy="103.9" r="3"/><circle cx="561.2" cy="101.5" r="3"/><circle cx="562.4" cy="104.1" r="3"/><circle cx="563.7" cy="97.0" r="3"/><circle cx="564.2" cy="103.8" r="3"/><circle cx="566.0" cy="104.2" r="3"/><circle cx="566.0" cy="101.7" r="3"/><circle cx="567.0" cy="104.2" r="3"/><circle cx="569.1" cy="101.5" r="3"/></g><g class="p i"><circle cx="274.6" cy="59.9" r="3"/><circle cx="220.3" cy="79.5" r="3"/><circle cx="233.2" cy="76.6" r="3"/><circle cx="240.5" cy="72.4" r="3"/><circle cx="240.5" cy="74.3" r="3"/><circle cx="239.2" cy="81.7" r="3"/><circle cx="248.8" cy="76.6" r="3"/><circle cx="274.6" cy="73.8" r="3"/><circle cx="213.5" cy="110.3" r="3"/><circle cx="217.4" cy="115.7" r="3"/><circle cx="233.2" cy="111.2" r="3"/><circle cx="246.3" cy="121.5" r="3"/><circle cx="259.4" cy="118.2" r="3"/><circle cx="235.7" cy="104.1" r="3"/><circle cx="236.6" cy="102.2" r="3"/><circle cx="240.5" cy="94.5" r="3"/><circle cx="257.9" cy="107.0" r="3"/><circle cx="195.1" cy="93.1" r="3"/><circle cx="296.4" cy="136.7" r="3"/><circle cx="307.0" cy="135.7" r="3"/><circle cx="326.3" cy="142.5" r="3"/><circle cx="348.5" cy="147.3" r="3"/><circle cx="391.2" cy="154.4" r="3"/><circle cx="399.9" cy="150.5" r="3"/><circle cx="413.4" cy="149.6" r="3"/><circle cx="409.6" cy="145.7" r="3"/><circle cx="442.4" cy="146.7" r="3"/><circle cx="449.2" cy="145.7" r="3"/><circle cx="435.6" cy="143.8" r="3"/><circle cx="527.6" cy="116.6" r="3"/><circle cx="520.8" cy="140.6" r="3"/><circle cx="556.5" cy="137.3" r="3"/><circle cx="496.3" cy="147.9" r="3"/><circle cx="494.7" cy="141.7" r="3"/><circle cx="486.1" cy="141.2" r="3"/><circle cx="483.2" cy="135.4" r="3"/><circle cx="485.1" cy="126.7" r="3"/><circle cx="495.7" cy="126.7" r="3"/><circle cx="506.3" cy="126.7" r="3"/><circle cx="509.2" cy="129.6" r="3"/><circle cx="584.5" cy="100.7" r="3"/><circle cx="274.5" cy="73.5" r="3"/><circle cx="281.1" cy="78.0" r="3"/><circle cx="298.2" cy="79.5" r="3"/><circle cx="313.0" cy="81.0" r="3"/><circle cx="324.6" cy="74.3" r="3"/><circle cx="329.3" cy="83.9" r="3"/><circle cx="364.2" cy="83.2" r="3"/><circle cx="290.8" cy="81.7" r="3"/><circle cx="287.8" cy="80.2" r="3"/><circle cx="400.2" cy="75.5" r="3"/><circle cx="380.6" cy="78.7" r="3"/><circle cx="387.3" cy="78.0" r="3"/><circle cx="386.5" cy="81.0" r="3"/><circle cx="395.4" cy="81.7" r="3"/><circle cx="399.9" cy="81.4" r="3"/><circle cx="408.0" cy="82.4" r="3"/><circle cx="431.0" cy="81.4" r="3"/><circle cx="448.8" cy="83.2" r="3"/><circle cx="454.8" cy="81.0" r="3"/><circle cx="458.5" cy="78.7" r="3"/><circle cx="458.7" cy="79.3" r="3"/><circle cx="472.1" cy="82.6" r="3"/><circle cx="248.1" cy="114.6" r="3"/><circle cx="252.7" cy="113.9" r="3"/><circle cx="554.1" cy="115.0" r="3"/></g>
<rect x="91.55" y="4.6" width="586.3" height="266.3" fill="none" stroke="#404040" stroke-width="1.4" stroke-linejoin="round"/>
<g font-size="11"><text x="78.9" y="274.54" text-anchor="end" font-size="11.4" textLength="46.8" lengthAdjust="spacingAndGlyphs">£550,000</text><text x="78.9" y="247.98" text-anchor="end" font-size="11.4" textLength="46.8" lengthAdjust="spacingAndGlyphs">£560,000</text><text x="78.9" y="221.42" text-anchor="end" font-size="11.4" textLength="46.8" lengthAdjust="spacingAndGlyphs">£570,000</text><text x="78.9" y="194.86" text-anchor="end" font-size="11.4" textLength="46.8" lengthAdjust="spacingAndGlyphs">£580,000</text><text x="78.9" y="168.30" text-anchor="end" font-size="11.4" textLength="46.8" lengthAdjust="spacingAndGlyphs">£590,000</text><text x="78.9" y="141.74" text-anchor="end" font-size="11.4" textLength="46.8" lengthAdjust="spacingAndGlyphs">£600,000</text><text x="78.9" y="115.18" text-anchor="end" font-size="11.4" textLength="46.8" lengthAdjust="spacingAndGlyphs">£610,000</text><text x="78.9" y="88.62" text-anchor="end" font-size="11.4" textLength="46.8" lengthAdjust="spacingAndGlyphs">£620,000</text><text x="78.9" y="62.06" text-anchor="end" font-size="11.4" textLength="46.8" lengthAdjust="spacingAndGlyphs">£630,000</text><text x="78.9" y="35.50" text-anchor="end" font-size="11.4" textLength="46.8" lengthAdjust="spacingAndGlyphs">£640,000</text><text x="78.9" y="8.94" text-anchor="end" font-size="11.4" textLength="46.8" lengthAdjust="spacingAndGlyphs">£650,000</text><text x="91.45" y="291.2" text-anchor="middle">-10</text><text x="189.25" y="291.2" text-anchor="middle">-5</text><text x="287.05" y="291.2" text-anchor="middle">0</text><text x="384.85" y="291.2" text-anchor="middle">5</text><text x="482.65" y="291.2" text-anchor="middle">10</text><text x="580.45" y="291.2" text-anchor="middle">15</text><text x="678.25" y="291.2" text-anchor="middle">20</text></g>
<g style="stroke-width:.15px" font-size="13"><text x="330.8" y="312" textLength="70.1" lengthAdjust="spacingAndGlyphs">Incremental</text><text x="403.1" y="312" textLength="35.6" lengthAdjust="spacingAndGlyphs">QALYs</text></g>
<g transform="translate(12.2,0) rotate(-90)" font-size="13.6" style="stroke-width:.1px"><text x="-199.6" y="0" textLength="76.6" lengthAdjust="spacingAndGlyphs">Incremental</text><text x="-118.9" y="0" textLength="33.2" lengthAdjust="spacingAndGlyphs">costs</text></g>
<circle cx="328.1" cy="331.4" r="3" fill="none" stroke="#7b93bd" stroke-width="1.1"/>
<g font-size="11.6" style="stroke-width:.2px"><text x="334.4" y="335" textLength="51.6" lengthAdjust="spacingAndGlyphs">Simulated</text><text x="390.7" y="335" textLength="33.6" lengthAdjust="spacingAndGlyphs">results</text></g>
</svg>
</body></html>
